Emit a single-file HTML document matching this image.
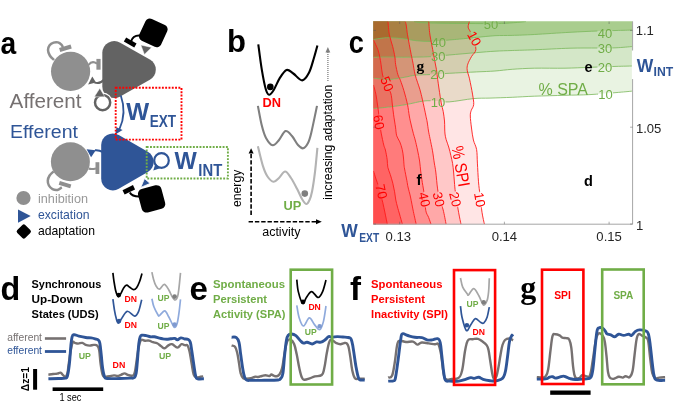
<!DOCTYPE html>
<html><head><meta charset="utf-8"><style>
html,body{margin:0;padding:0;background:#fff;overflow:hidden;}
svg{display:block;will-change:transform;}
text{font-family:"Liberation Sans",sans-serif;}
</style></head><body>
<svg width="685" height="406" viewBox="0 0 685 406">
<defs>
<clipPath id="pc"><rect x="373.5" y="21.5" width="259.10" height="202.70"/></clipPath>
<clipPath id="r10"><path d="M469.50,21.50 C469.27,22.42 467.98,25.35 468.10,27.00 C468.22,28.65 469.38,29.57 470.20,31.40 C471.02,33.23 472.05,34.98 473.00,38.00 C473.95,41.02 476.13,46.43 475.90,49.50 C475.67,52.57 472.95,53.97 471.60,56.40 C470.25,58.83 468.53,61.80 467.80,64.10 C467.07,66.40 466.92,67.75 467.20,70.20 C467.48,72.65 468.62,74.82 469.50,78.80 C470.38,82.78 471.80,89.82 472.50,94.10 C473.20,98.38 473.92,101.77 473.70,104.50 C473.48,107.23 471.77,108.58 471.20,110.50 C470.63,112.42 470.25,113.08 470.30,116.00 C470.35,118.92 470.98,124.00 471.50,128.00 C472.02,132.00 472.55,136.42 473.40,140.00 C474.25,143.58 475.93,145.65 476.60,149.50 C477.27,153.35 477.08,157.72 477.40,163.10 C477.72,168.48 478.07,176.48 478.50,181.80 C478.93,187.12 479.42,189.92 480.00,195.00 C480.58,200.08 481.27,207.43 482.00,212.30 C482.73,217.17 484.00,222.22 484.40,224.20 L484.4,227.2 L370.5,227.2 L370.5,18.5 L469.5,18.5 Z"/></clipPath>
<clipPath id="r20"><path d="M428.80,21.50 C428.83,22.08 428.87,23.18 429.00,25.00 C429.13,26.82 429.30,29.93 429.60,32.40 C429.90,34.87 430.28,36.93 430.80,39.80 C431.32,42.67 432.08,46.32 432.70,49.60 C433.32,52.88 433.88,56.22 434.50,59.50 C435.12,62.78 435.87,65.98 436.40,69.30 C436.93,72.62 437.28,76.28 437.70,79.40 C438.12,82.52 438.48,85.13 438.90,88.00 C439.32,90.87 439.78,93.93 440.20,96.60 C440.62,99.27 440.90,101.53 441.40,104.00 C441.90,106.47 442.68,108.57 443.20,111.40 C443.72,114.23 444.25,118.23 444.50,121.00 C444.75,123.77 444.62,125.83 444.70,128.00 C444.78,130.17 444.75,132.05 445.00,134.00 C445.25,135.95 445.58,137.53 446.20,139.70 C446.82,141.87 447.92,144.33 448.70,147.00 C449.48,149.67 450.25,152.95 450.90,155.70 C451.55,158.45 452.15,160.78 452.60,163.50 C453.05,166.22 453.30,168.92 453.60,172.00 C453.90,175.08 454.08,178.50 454.40,182.00 C454.72,185.50 454.80,187.95 455.50,193.00 C456.20,198.05 457.68,207.10 458.60,212.30 C459.52,217.50 460.60,222.22 461.00,224.20 L461,227.2 L370.5,227.2 L370.5,18.5 L428.8,18.5 Z"/></clipPath>
<clipPath id="r30"><path d="M405.20,21.50 C405.37,22.08 405.82,22.78 406.20,25.00 C406.58,27.22 406.98,31.52 407.50,34.80 C408.02,38.08 408.68,41.42 409.30,44.70 C409.92,47.98 410.58,51.42 411.20,54.50 C411.82,57.58 412.33,59.78 413.00,63.20 C413.67,66.62 414.07,70.67 415.20,75.00 C416.33,79.33 418.62,85.18 419.80,89.20 C420.98,93.22 421.57,96.02 422.30,99.10 C423.03,102.18 423.58,104.83 424.20,107.70 C424.82,110.57 425.50,113.92 426.00,116.30 C426.50,118.68 426.78,119.55 427.20,122.00 C427.62,124.45 428.03,128.25 428.50,131.00 C428.97,133.75 429.33,135.20 430.00,138.50 C430.67,141.80 431.78,146.72 432.50,150.80 C433.22,154.88 433.75,159.47 434.30,163.00 C434.85,166.53 435.25,167.68 435.80,172.00 C436.35,176.32 436.90,184.23 437.60,188.90 C438.30,193.57 439.07,196.48 440.00,200.00 C440.93,203.52 442.18,205.97 443.20,210.00 C444.22,214.03 445.62,221.83 446.10,224.20 L446.1,227.2 L370.5,227.2 L370.5,18.5 L405.2,18.5 Z"/></clipPath>
<clipPath id="r40"><path d="M388.00,21.50 C388.23,23.72 388.62,30.62 389.40,34.80 C390.18,38.98 391.78,42.90 392.70,46.60 C393.62,50.30 394.42,54.05 394.90,57.00 C395.38,59.95 395.10,61.35 395.60,64.30 C396.10,67.25 397.10,72.03 397.90,74.70 C398.70,77.37 399.40,77.63 400.40,80.30 C401.40,82.97 402.72,86.67 403.90,90.70 C405.08,94.73 406.60,100.28 407.50,104.50 C408.40,108.72 408.72,112.75 409.30,116.00 C409.88,119.25 410.33,121.12 411.00,124.00 C411.67,126.88 412.60,130.63 413.30,133.30 C414.00,135.97 414.50,137.22 415.20,140.00 C415.90,142.78 416.77,146.50 417.50,150.00 C418.23,153.50 419.05,157.33 419.60,161.00 C420.15,164.67 420.35,168.43 420.80,172.00 C421.25,175.57 421.68,178.40 422.30,182.40 C422.92,186.40 423.92,191.30 424.50,196.00 C425.08,200.70 425.12,207.03 425.80,210.60 C426.48,214.17 427.73,215.13 428.60,217.40 C429.47,219.67 430.60,223.07 431.00,224.20 L431,227.2 L370.5,227.2 L370.5,18.5 L388,18.5 Z"/></clipPath>
<clipPath id="r50"><path d="M373.50,40.00 C374.23,41.60 376.85,46.77 377.90,49.60 C378.95,52.43 379.27,54.47 379.80,57.00 C380.33,59.53 380.63,61.78 381.10,64.80 C381.57,67.82 381.78,71.73 382.60,75.10 C383.42,78.47 384.65,82.03 386.00,85.00 C387.35,87.97 389.63,89.57 390.70,92.90 C391.77,96.23 391.92,101.35 392.40,105.00 C392.88,108.65 393.08,111.12 393.60,114.80 C394.12,118.48 394.98,123.60 395.50,127.10 C396.02,130.60 395.98,133.33 396.70,135.80 C397.42,138.27 398.88,139.65 399.80,141.90 C400.72,144.15 401.60,146.78 402.20,149.30 C402.80,151.82 403.10,154.42 403.40,157.00 C403.70,159.58 403.80,162.80 404.00,164.80 C404.20,166.80 404.12,166.33 404.60,169.00 C405.08,171.67 406.33,177.80 406.90,180.80 C407.47,183.80 407.40,184.30 408.00,187.00 C408.60,189.70 409.60,192.88 410.50,197.00 C411.40,201.12 412.45,207.17 413.40,211.70 C414.35,216.23 415.73,222.12 416.20,224.20 L416.2,227.2 L370.5,227.2 L370.5,40 Z"/></clipPath>
<clipPath id="r60"><path d="M373.50,85.00 C373.90,86.55 375.25,91.13 375.90,94.30 C376.55,97.47 376.97,101.05 377.40,104.00 C377.83,106.95 378.07,108.50 378.50,112.00 C378.93,115.50 379.55,121.48 380.00,125.00 C380.45,128.52 380.57,129.73 381.20,133.10 C381.83,136.47 383.10,142.38 383.80,145.20 C384.50,148.02 384.83,147.57 385.40,150.00 C385.97,152.43 386.80,156.93 387.20,159.80 C387.60,162.67 387.28,164.73 387.80,167.20 C388.32,169.67 389.47,171.93 390.30,174.60 C391.13,177.27 392.08,180.33 392.80,183.20 C393.52,186.07 394.10,189.00 394.60,191.80 C395.10,194.60 395.32,197.47 395.80,200.00 C396.28,202.53 396.88,204.67 397.50,207.00 C398.12,209.33 398.68,211.13 399.50,214.00 C400.32,216.87 401.92,222.50 402.40,224.20 L402.4,227.2 L370.5,227.2 L370.5,85 Z"/></clipPath>
<clipPath id="r70"><path d="M373.50,171.00 C373.92,172.33 375.17,176.50 376.00,179.00 C376.83,181.50 377.75,183.50 378.50,186.00 C379.25,188.50 379.78,191.22 380.50,194.00 C381.22,196.78 382.05,199.55 382.80,202.70 C383.55,205.85 384.25,209.32 385.00,212.90 C385.75,216.48 386.92,222.32 387.30,224.20 L387.3,227.2 L370.5,227.2 L370.5,171 Z"/></clipPath>
<mask id="lmr" maskUnits="userSpaceOnUse" x="0" y="0" width="685" height="406"><rect width="685" height="406" fill="#fff"/><rect x="-7.6" y="-6.3" width="15.3" height="12.6" fill="#000" transform="translate(474.2,38.6) rotate(62)"/><rect x="-7.6" y="-6.3" width="15.3" height="12.6" fill="#000" transform="translate(387,84) rotate(68)"/><rect x="-7.6" y="-6.3" width="15.3" height="12.6" fill="#000" transform="translate(378.6,122.3) rotate(80)"/><rect x="-7.6" y="-6.3" width="15.3" height="12.6" fill="#000" transform="translate(381.3,191.6) rotate(78)"/><rect x="-7.6" y="-6.3" width="15.3" height="12.6" fill="#000" transform="translate(424.3,199.6) rotate(78)"/><rect x="-7.6" y="-6.3" width="15.3" height="12.6" fill="#000" transform="translate(438.7,199.4) rotate(76)"/><rect x="-7.6" y="-6.3" width="15.3" height="12.6" fill="#000" transform="translate(455.1,199.4) rotate(76)"/><rect x="-7.6" y="-6.3" width="15.3" height="12.6" fill="#000" transform="translate(479.7,199.8) rotate(80)"/></mask>
<mask id="lmg" maskUnits="userSpaceOnUse" x="0" y="0" width="685" height="406"><rect width="685" height="406" fill="#fff"/><rect x="-7.5" y="-6.2" width="14.9" height="12.3" fill="#000" transform="translate(491,24.8) rotate(0)"/><rect x="-7.5" y="-6.2" width="14.9" height="12.3" fill="#000" transform="translate(438.8,42.1) rotate(0)"/><rect x="-7.5" y="-6.2" width="14.9" height="12.3" fill="#000" transform="translate(438.3,56.8) rotate(0)"/><rect x="-7.5" y="-6.2" width="14.9" height="12.3" fill="#000" transform="translate(437.5,74) rotate(0)"/><rect x="-7.5" y="-6.2" width="14.9" height="12.3" fill="#000" transform="translate(438.1,102.2) rotate(0)"/><rect x="-7.5" y="-6.2" width="14.9" height="12.3" fill="#000" transform="translate(604.9,33.3) rotate(0)"/><rect x="-7.5" y="-6.2" width="14.9" height="12.3" fill="#000" transform="translate(604.9,48.4) rotate(0)"/><rect x="-7.5" y="-6.2" width="14.9" height="12.3" fill="#000" transform="translate(604.9,67.4) rotate(0)"/><rect x="-7.5" y="-6.2" width="14.9" height="12.3" fill="#000" transform="translate(605.6,94) rotate(0)"/></mask>
</defs>
<rect width="685" height="406" fill="#fff"/>
<g clip-path="url(#pc)">
<path d="M370.5,18.5 H635.6 V227.2 H370.5 Z" fill="#ffe5e5" clip-path="url(#r10)"/>
<path d="M370.5,18.5 H635.6 V227.2 H370.5 Z" fill="#ffc8c8" clip-path="url(#r20)"/>
<path d="M370.5,18.5 H635.6 V227.2 H370.5 Z" fill="#ffa8a8" clip-path="url(#r30)"/>
<path d="M370.5,18.5 H635.6 V227.2 H370.5 Z" fill="#ff8f8f" clip-path="url(#r40)"/>
<path d="M370.5,18.5 H635.6 V227.2 H370.5 Z" fill="#ff7b7b" clip-path="url(#r50)"/>
<path d="M370.5,18.5 H635.6 V227.2 H370.5 Z" fill="#ff6464" clip-path="url(#r60)"/>
<path d="M370.5,18.5 H635.6 V227.2 H370.5 Z" fill="#ff4d4d" clip-path="url(#r70)"/>
<path d="M373.50,108.50 C376.12,108.25 383.70,107.67 389.20,107.00 C394.70,106.33 400.75,105.50 406.50,104.50 C412.25,103.50 418.78,101.58 423.70,101.00 C428.62,100.42 431.75,100.85 436.00,101.00 C440.25,101.15 442.97,102.30 449.20,101.90 C455.43,101.50 466.60,99.23 473.40,98.60 C480.20,97.97 483.53,98.32 490.00,98.10 C496.47,97.88 504.82,97.62 512.20,97.30 C519.58,96.98 525.50,96.53 534.30,96.20 C543.10,95.87 555.72,95.57 565.00,95.30 C574.28,95.03 581.50,95.05 590.00,94.60 C598.50,94.15 608.90,93.18 616.00,92.60 C623.10,92.02 629.83,91.35 632.60,91.10 L635.6,91.1 L635.6,18.5 L370.5,18.5 L370.5,108.5 Z" fill="#e9f3e2"/>
<path d="M373.50,108.50 C376.12,108.25 383.70,107.67 389.20,107.00 C394.70,106.33 400.75,105.50 406.50,104.50 C412.25,103.50 418.78,101.58 423.70,101.00 C428.62,100.42 431.75,100.85 436.00,101.00 C440.25,101.15 442.97,102.30 449.20,101.90 C455.43,101.50 466.60,99.23 473.40,98.60 C480.20,97.97 483.53,98.32 490.00,98.10 C496.47,97.88 504.82,97.62 512.20,97.30 C519.58,96.98 525.50,96.53 534.30,96.20 C543.10,95.87 555.72,95.57 565.00,95.30 C574.28,95.03 581.50,95.05 590.00,94.60 C598.50,94.15 608.90,93.18 616.00,92.60 C623.10,92.02 629.83,91.35 632.60,91.10 L635.6,91.1 L635.6,18.5 L370.5,18.5 L370.5,108.5 Z" fill="#e9dac9" clip-path="url(#r10)"/>
<path d="M373.50,108.50 C376.12,108.25 383.70,107.67 389.20,107.00 C394.70,106.33 400.75,105.50 406.50,104.50 C412.25,103.50 418.78,101.58 423.70,101.00 C428.62,100.42 431.75,100.85 436.00,101.00 C440.25,101.15 442.97,102.30 449.20,101.90 C455.43,101.50 466.60,99.23 473.40,98.60 C480.20,97.97 483.53,98.32 490.00,98.10 C496.47,97.88 504.82,97.62 512.20,97.30 C519.58,96.98 525.50,96.53 534.30,96.20 C543.10,95.87 555.72,95.57 565.00,95.30 C574.28,95.03 581.50,95.05 590.00,94.60 C598.50,94.15 608.90,93.18 616.00,92.60 C623.10,92.02 629.83,91.35 632.60,91.10 L635.6,91.1 L635.6,18.5 L370.5,18.5 L370.5,108.5 Z" fill="#e9bdad" clip-path="url(#r20)"/>
<path d="M373.50,108.50 C376.12,108.25 383.70,107.67 389.20,107.00 C394.70,106.33 400.75,105.50 406.50,104.50 C412.25,103.50 418.78,101.58 423.70,101.00 C428.62,100.42 431.75,100.85 436.00,101.00 C440.25,101.15 442.97,102.30 449.20,101.90 C455.43,101.50 466.60,99.23 473.40,98.60 C480.20,97.97 483.53,98.32 490.00,98.10 C496.47,97.88 504.82,97.62 512.20,97.30 C519.58,96.98 525.50,96.53 534.30,96.20 C543.10,95.87 555.72,95.57 565.00,95.30 C574.28,95.03 581.50,95.05 590.00,94.60 C598.50,94.15 608.90,93.18 616.00,92.60 C623.10,92.02 629.83,91.35 632.60,91.10 L635.6,91.1 L635.6,18.5 L370.5,18.5 L370.5,108.5 Z" fill="#e99e8e" clip-path="url(#r30)"/>
<path d="M373.50,108.50 C376.12,108.25 383.70,107.67 389.20,107.00 C394.70,106.33 400.75,105.50 406.50,104.50 C412.25,103.50 418.78,101.58 423.70,101.00 C428.62,100.42 431.75,100.85 436.00,101.00 C440.25,101.15 442.97,102.30 449.20,101.90 C455.43,101.50 466.60,99.23 473.40,98.60 C480.20,97.97 483.53,98.32 490.00,98.10 C496.47,97.88 504.82,97.62 512.20,97.30 C519.58,96.98 525.50,96.53 534.30,96.20 C543.10,95.87 555.72,95.57 565.00,95.30 C574.28,95.03 581.50,95.05 590.00,94.60 C598.50,94.15 608.90,93.18 616.00,92.60 C623.10,92.02 629.83,91.35 632.60,91.10 L635.6,91.1 L635.6,18.5 L370.5,18.5 L370.5,108.5 Z" fill="#e98676" clip-path="url(#r40)"/>
<path d="M373.50,108.50 C376.12,108.25 383.70,107.67 389.20,107.00 C394.70,106.33 400.75,105.50 406.50,104.50 C412.25,103.50 418.78,101.58 423.70,101.00 C428.62,100.42 431.75,100.85 436.00,101.00 C440.25,101.15 442.97,102.30 449.20,101.90 C455.43,101.50 466.60,99.23 473.40,98.60 C480.20,97.97 483.53,98.32 490.00,98.10 C496.47,97.88 504.82,97.62 512.20,97.30 C519.58,96.98 525.50,96.53 534.30,96.20 C543.10,95.87 555.72,95.57 565.00,95.30 C574.28,95.03 581.50,95.05 590.00,94.60 C598.50,94.15 608.90,93.18 616.00,92.60 C623.10,92.02 629.83,91.35 632.60,91.10 L635.6,91.1 L635.6,18.5 L370.5,18.5 L370.5,108.5 Z" fill="#e97363" clip-path="url(#r50)"/>
<path d="M373.50,108.50 C376.12,108.25 383.70,107.67 389.20,107.00 C394.70,106.33 400.75,105.50 406.50,104.50 C412.25,103.50 418.78,101.58 423.70,101.00 C428.62,100.42 431.75,100.85 436.00,101.00 C440.25,101.15 442.97,102.30 449.20,101.90 C455.43,101.50 466.60,99.23 473.40,98.60 C480.20,97.97 483.53,98.32 490.00,98.10 C496.47,97.88 504.82,97.62 512.20,97.30 C519.58,96.98 525.50,96.53 534.30,96.20 C543.10,95.87 555.72,95.57 565.00,95.30 C574.28,95.03 581.50,95.05 590.00,94.60 C598.50,94.15 608.90,93.18 616.00,92.60 C623.10,92.02 629.83,91.35 632.60,91.10 L635.6,91.1 L635.6,18.5 L370.5,18.5 L370.5,108.5 Z" fill="#e95c4d" clip-path="url(#r60)"/>
<path d="M373.50,108.50 C376.12,108.25 383.70,107.67 389.20,107.00 C394.70,106.33 400.75,105.50 406.50,104.50 C412.25,103.50 418.78,101.58 423.70,101.00 C428.62,100.42 431.75,100.85 436.00,101.00 C440.25,101.15 442.97,102.30 449.20,101.90 C455.43,101.50 466.60,99.23 473.40,98.60 C480.20,97.97 483.53,98.32 490.00,98.10 C496.47,97.88 504.82,97.62 512.20,97.30 C519.58,96.98 525.50,96.53 534.30,96.20 C543.10,95.87 555.72,95.57 565.00,95.30 C574.28,95.03 581.50,95.05 590.00,94.60 C598.50,94.15 608.90,93.18 616.00,92.60 C623.10,92.02 629.83,91.35 632.60,91.10 L635.6,91.1 L635.6,18.5 L370.5,18.5 L370.5,108.5 Z" fill="#e94637" clip-path="url(#r70)"/>
<path d="M373.50,78.10 C376.12,78.33 383.70,79.70 389.20,79.50 C394.70,79.30 402.18,77.62 406.50,76.90 C410.82,76.18 411.02,75.60 415.10,75.20 C419.18,74.80 425.33,74.82 431.00,74.50 C436.67,74.18 441.48,73.73 449.10,73.30 C456.72,72.87 469.05,72.28 476.70,71.90 C484.35,71.52 489.08,71.43 495.00,71.00 C500.92,70.57 505.65,69.77 512.20,69.30 C518.75,68.83 525.50,68.38 534.30,68.20 C543.10,68.02 555.72,68.35 565.00,68.20 C574.28,68.05 581.50,67.60 590.00,67.30 C598.50,67.00 608.90,66.62 616.00,66.40 C623.10,66.18 629.83,66.07 632.60,66.00 L635.6,66 L635.6,18.5 L370.5,18.5 L370.5,78.1 Z" fill="#d4e7c8"/>
<path d="M373.50,78.10 C376.12,78.33 383.70,79.70 389.20,79.50 C394.70,79.30 402.18,77.62 406.50,76.90 C410.82,76.18 411.02,75.60 415.10,75.20 C419.18,74.80 425.33,74.82 431.00,74.50 C436.67,74.18 441.48,73.73 449.10,73.30 C456.72,72.87 469.05,72.28 476.70,71.90 C484.35,71.52 489.08,71.43 495.00,71.00 C500.92,70.57 505.65,69.77 512.20,69.30 C518.75,68.83 525.50,68.38 534.30,68.20 C543.10,68.02 555.72,68.35 565.00,68.20 C574.28,68.05 581.50,67.60 590.00,67.30 C598.50,67.00 608.90,66.62 616.00,66.40 C623.10,66.18 629.83,66.07 632.60,66.00 L635.6,66 L635.6,18.5 L370.5,18.5 L370.5,78.1 Z" fill="#d4ceb0" clip-path="url(#r10)"/>
<path d="M373.50,78.10 C376.12,78.33 383.70,79.70 389.20,79.50 C394.70,79.30 402.18,77.62 406.50,76.90 C410.82,76.18 411.02,75.60 415.10,75.20 C419.18,74.80 425.33,74.82 431.00,74.50 C436.67,74.18 441.48,73.73 449.10,73.30 C456.72,72.87 469.05,72.28 476.70,71.90 C484.35,71.52 489.08,71.43 495.00,71.00 C500.92,70.57 505.65,69.77 512.20,69.30 C518.75,68.83 525.50,68.38 534.30,68.20 C543.10,68.02 555.72,68.35 565.00,68.20 C574.28,68.05 581.50,67.60 590.00,67.30 C598.50,67.00 608.90,66.62 616.00,66.40 C623.10,66.18 629.83,66.07 632.60,66.00 L635.6,66 L635.6,18.5 L370.5,18.5 L370.5,78.1 Z" fill="#d4b395" clip-path="url(#r20)"/>
<path d="M373.50,78.10 C376.12,78.33 383.70,79.70 389.20,79.50 C394.70,79.30 402.18,77.62 406.50,76.90 C410.82,76.18 411.02,75.60 415.10,75.20 C419.18,74.80 425.33,74.82 431.00,74.50 C436.67,74.18 441.48,73.73 449.10,73.30 C456.72,72.87 469.05,72.28 476.70,71.90 C484.35,71.52 489.08,71.43 495.00,71.00 C500.92,70.57 505.65,69.77 512.20,69.30 C518.75,68.83 525.50,68.38 534.30,68.20 C543.10,68.02 555.72,68.35 565.00,68.20 C574.28,68.05 581.50,67.60 590.00,67.30 C598.50,67.00 608.90,66.62 616.00,66.40 C623.10,66.18 629.83,66.07 632.60,66.00 L635.6,66 L635.6,18.5 L370.5,18.5 L370.5,78.1 Z" fill="#d49577" clip-path="url(#r30)"/>
<path d="M373.50,78.10 C376.12,78.33 383.70,79.70 389.20,79.50 C394.70,79.30 402.18,77.62 406.50,76.90 C410.82,76.18 411.02,75.60 415.10,75.20 C419.18,74.80 425.33,74.82 431.00,74.50 C436.67,74.18 441.48,73.73 449.10,73.30 C456.72,72.87 469.05,72.28 476.70,71.90 C484.35,71.52 489.08,71.43 495.00,71.00 C500.92,70.57 505.65,69.77 512.20,69.30 C518.75,68.83 525.50,68.38 534.30,68.20 C543.10,68.02 555.72,68.35 565.00,68.20 C574.28,68.05 581.50,67.60 590.00,67.30 C598.50,67.00 608.90,66.62 616.00,66.40 C623.10,66.18 629.83,66.07 632.60,66.00 L635.6,66 L635.6,18.5 L370.5,18.5 L370.5,78.1 Z" fill="#d47d5f" clip-path="url(#r40)"/>
<path d="M373.50,78.10 C376.12,78.33 383.70,79.70 389.20,79.50 C394.70,79.30 402.18,77.62 406.50,76.90 C410.82,76.18 411.02,75.60 415.10,75.20 C419.18,74.80 425.33,74.82 431.00,74.50 C436.67,74.18 441.48,73.73 449.10,73.30 C456.72,72.87 469.05,72.28 476.70,71.90 C484.35,71.52 489.08,71.43 495.00,71.00 C500.92,70.57 505.65,69.77 512.20,69.30 C518.75,68.83 525.50,68.38 534.30,68.20 C543.10,68.02 555.72,68.35 565.00,68.20 C574.28,68.05 581.50,67.60 590.00,67.30 C598.50,67.00 608.90,66.62 616.00,66.40 C623.10,66.18 629.83,66.07 632.60,66.00 L635.6,66 L635.6,18.5 L370.5,18.5 L370.5,78.1 Z" fill="#d46a4d" clip-path="url(#r50)"/>
<path d="M373.50,78.10 C376.12,78.33 383.70,79.70 389.20,79.50 C394.70,79.30 402.18,77.62 406.50,76.90 C410.82,76.18 411.02,75.60 415.10,75.20 C419.18,74.80 425.33,74.82 431.00,74.50 C436.67,74.18 441.48,73.73 449.10,73.30 C456.72,72.87 469.05,72.28 476.70,71.90 C484.35,71.52 489.08,71.43 495.00,71.00 C500.92,70.57 505.65,69.77 512.20,69.30 C518.75,68.83 525.50,68.38 534.30,68.20 C543.10,68.02 555.72,68.35 565.00,68.20 C574.28,68.05 581.50,67.60 590.00,67.30 C598.50,67.00 608.90,66.62 616.00,66.40 C623.10,66.18 629.83,66.07 632.60,66.00 L635.6,66 L635.6,18.5 L370.5,18.5 L370.5,78.1 Z" fill="#d45537" clip-path="url(#r60)"/>
<path d="M373.50,78.10 C376.12,78.33 383.70,79.70 389.20,79.50 C394.70,79.30 402.18,77.62 406.50,76.90 C410.82,76.18 411.02,75.60 415.10,75.20 C419.18,74.80 425.33,74.82 431.00,74.50 C436.67,74.18 441.48,73.73 449.10,73.30 C456.72,72.87 469.05,72.28 476.70,71.90 C484.35,71.52 489.08,71.43 495.00,71.00 C500.92,70.57 505.65,69.77 512.20,69.30 C518.75,68.83 525.50,68.38 534.30,68.20 C543.10,68.02 555.72,68.35 565.00,68.20 C574.28,68.05 581.50,67.60 590.00,67.30 C598.50,67.00 608.90,66.62 616.00,66.40 C623.10,66.18 629.83,66.07 632.60,66.00 L635.6,66 L635.6,18.5 L370.5,18.5 L370.5,78.1 Z" fill="#d43f22" clip-path="url(#r70)"/>
<path d="M373.50,57.20 C375.72,57.17 382.12,57.00 386.80,57.00 C391.48,57.00 396.68,57.18 401.60,57.20 C406.52,57.22 411.40,57.20 416.30,57.10 C421.20,57.00 425.53,56.95 431.00,56.60 C436.47,56.25 441.48,55.67 449.10,55.00 C456.72,54.33 469.05,53.23 476.70,52.60 C484.35,51.97 489.08,51.55 495.00,51.20 C500.92,50.85 505.65,50.73 512.20,50.50 C518.75,50.27 524.67,50.18 534.30,49.80 C543.93,49.42 559.42,48.50 570.00,48.20 C580.58,47.90 590.13,48.07 597.80,48.00 C605.47,47.93 610.20,48.05 616.00,47.80 C621.80,47.55 629.83,46.72 632.60,46.50 L635.6,46.5 L635.6,18.5 L370.5,18.5 L370.5,57.2 Z" fill="#c1dcb0"/>
<path d="M373.50,57.20 C375.72,57.17 382.12,57.00 386.80,57.00 C391.48,57.00 396.68,57.18 401.60,57.20 C406.52,57.22 411.40,57.20 416.30,57.10 C421.20,57.00 425.53,56.95 431.00,56.60 C436.47,56.25 441.48,55.67 449.10,55.00 C456.72,54.33 469.05,53.23 476.70,52.60 C484.35,51.97 489.08,51.55 495.00,51.20 C500.92,50.85 505.65,50.73 512.20,50.50 C518.75,50.27 524.67,50.18 534.30,49.80 C543.93,49.42 559.42,48.50 570.00,48.20 C580.58,47.90 590.13,48.07 597.80,48.00 C605.47,47.93 610.20,48.05 616.00,47.80 C621.80,47.55 629.83,46.72 632.60,46.50 L635.6,46.5 L635.6,18.5 L370.5,18.5 L370.5,57.2 Z" fill="#c1c498" clip-path="url(#r10)"/>
<path d="M373.50,57.20 C375.72,57.17 382.12,57.00 386.80,57.00 C391.48,57.00 396.68,57.18 401.60,57.20 C406.52,57.22 411.40,57.20 416.30,57.10 C421.20,57.00 425.53,56.95 431.00,56.60 C436.47,56.25 441.48,55.67 449.10,55.00 C456.72,54.33 469.05,53.23 476.70,52.60 C484.35,51.97 489.08,51.55 495.00,51.20 C500.92,50.85 505.65,50.73 512.20,50.50 C518.75,50.27 524.67,50.18 534.30,49.80 C543.93,49.42 559.42,48.50 570.00,48.20 C580.58,47.90 590.13,48.07 597.80,48.00 C605.47,47.93 610.20,48.05 616.00,47.80 C621.80,47.55 629.83,46.72 632.60,46.50 L635.6,46.5 L635.6,18.5 L370.5,18.5 L370.5,57.2 Z" fill="#c1a97e" clip-path="url(#r20)"/>
<path d="M373.50,57.20 C375.72,57.17 382.12,57.00 386.80,57.00 C391.48,57.00 396.68,57.18 401.60,57.20 C406.52,57.22 411.40,57.20 416.30,57.10 C421.20,57.00 425.53,56.95 431.00,56.60 C436.47,56.25 441.48,55.67 449.10,55.00 C456.72,54.33 469.05,53.23 476.70,52.60 C484.35,51.97 489.08,51.55 495.00,51.20 C500.92,50.85 505.65,50.73 512.20,50.50 C518.75,50.27 524.67,50.18 534.30,49.80 C543.93,49.42 559.42,48.50 570.00,48.20 C580.58,47.90 590.13,48.07 597.80,48.00 C605.47,47.93 610.20,48.05 616.00,47.80 C621.80,47.55 629.83,46.72 632.60,46.50 L635.6,46.5 L635.6,18.5 L370.5,18.5 L370.5,57.2 Z" fill="#c18c61" clip-path="url(#r30)"/>
<path d="M373.50,57.20 C375.72,57.17 382.12,57.00 386.80,57.00 C391.48,57.00 396.68,57.18 401.60,57.20 C406.52,57.22 411.40,57.20 416.30,57.10 C421.20,57.00 425.53,56.95 431.00,56.60 C436.47,56.25 441.48,55.67 449.10,55.00 C456.72,54.33 469.05,53.23 476.70,52.60 C484.35,51.97 489.08,51.55 495.00,51.20 C500.92,50.85 505.65,50.73 512.20,50.50 C518.75,50.27 524.67,50.18 534.30,49.80 C543.93,49.42 559.42,48.50 570.00,48.20 C580.58,47.90 590.13,48.07 597.80,48.00 C605.47,47.93 610.20,48.05 616.00,47.80 C621.80,47.55 629.83,46.72 632.60,46.50 L635.6,46.5 L635.6,18.5 L370.5,18.5 L370.5,57.2 Z" fill="#c1754a" clip-path="url(#r40)"/>
<path d="M373.50,57.20 C375.72,57.17 382.12,57.00 386.80,57.00 C391.48,57.00 396.68,57.18 401.60,57.20 C406.52,57.22 411.40,57.20 416.30,57.10 C421.20,57.00 425.53,56.95 431.00,56.60 C436.47,56.25 441.48,55.67 449.10,55.00 C456.72,54.33 469.05,53.23 476.70,52.60 C484.35,51.97 489.08,51.55 495.00,51.20 C500.92,50.85 505.65,50.73 512.20,50.50 C518.75,50.27 524.67,50.18 534.30,49.80 C543.93,49.42 559.42,48.50 570.00,48.20 C580.58,47.90 590.13,48.07 597.80,48.00 C605.47,47.93 610.20,48.05 616.00,47.80 C621.80,47.55 629.83,46.72 632.60,46.50 L635.6,46.5 L635.6,18.5 L370.5,18.5 L370.5,57.2 Z" fill="#c16338" clip-path="url(#r50)"/>
<path d="M373.50,57.20 C375.72,57.17 382.12,57.00 386.80,57.00 C391.48,57.00 396.68,57.18 401.60,57.20 C406.52,57.22 411.40,57.20 416.30,57.10 C421.20,57.00 425.53,56.95 431.00,56.60 C436.47,56.25 441.48,55.67 449.10,55.00 C456.72,54.33 469.05,53.23 476.70,52.60 C484.35,51.97 489.08,51.55 495.00,51.20 C500.92,50.85 505.65,50.73 512.20,50.50 C518.75,50.27 524.67,50.18 534.30,49.80 C543.93,49.42 559.42,48.50 570.00,48.20 C580.58,47.90 590.13,48.07 597.80,48.00 C605.47,47.93 610.20,48.05 616.00,47.80 C621.80,47.55 629.83,46.72 632.60,46.50 L635.6,46.5 L635.6,18.5 L370.5,18.5 L370.5,57.2 Z" fill="#c14e23" clip-path="url(#r60)"/>
<path d="M373.50,57.20 C375.72,57.17 382.12,57.00 386.80,57.00 C391.48,57.00 396.68,57.18 401.60,57.20 C406.52,57.22 411.40,57.20 416.30,57.10 C421.20,57.00 425.53,56.95 431.00,56.60 C436.47,56.25 441.48,55.67 449.10,55.00 C456.72,54.33 469.05,53.23 476.70,52.60 C484.35,51.97 489.08,51.55 495.00,51.20 C500.92,50.85 505.65,50.73 512.20,50.50 C518.75,50.27 524.67,50.18 534.30,49.80 C543.93,49.42 559.42,48.50 570.00,48.20 C580.58,47.90 590.13,48.07 597.80,48.00 C605.47,47.93 610.20,48.05 616.00,47.80 C621.80,47.55 629.83,46.72 632.60,46.50 L635.6,46.5 L635.6,18.5 L370.5,18.5 L370.5,57.2 Z" fill="#c1380f" clip-path="url(#r70)"/>
<path d="M373.50,39.40 C375.72,39.12 382.12,37.85 386.80,37.70 C391.48,37.55 396.68,38.00 401.60,38.50 C406.52,39.00 411.23,40.22 416.30,40.70 C421.37,41.18 426.53,41.52 432.00,41.40 C437.47,41.28 444.52,40.38 449.10,40.00 C453.68,39.62 454.90,39.53 459.50,39.10 C464.10,38.67 470.78,37.97 476.70,37.40 C482.62,36.83 489.08,36.03 495.00,35.70 C500.92,35.37 505.65,35.60 512.20,35.40 C518.75,35.20 524.67,35.02 534.30,34.50 C543.93,33.98 559.42,32.88 570.00,32.30 C580.58,31.72 590.13,31.30 597.80,31.00 C605.47,30.70 610.20,30.65 616.00,30.50 C621.80,30.35 629.83,30.17 632.60,30.10 L635.6,30.1 L635.6,18.5 L370.5,18.5 L370.5,39.4 Z" fill="#a9cd8e"/>
<path d="M373.50,39.40 C375.72,39.12 382.12,37.85 386.80,37.70 C391.48,37.55 396.68,38.00 401.60,38.50 C406.52,39.00 411.23,40.22 416.30,40.70 C421.37,41.18 426.53,41.52 432.00,41.40 C437.47,41.28 444.52,40.38 449.10,40.00 C453.68,39.62 454.90,39.53 459.50,39.10 C464.10,38.67 470.78,37.97 476.70,37.40 C482.62,36.83 489.08,36.03 495.00,35.70 C500.92,35.37 505.65,35.60 512.20,35.40 C518.75,35.20 524.67,35.02 534.30,34.50 C543.93,33.98 559.42,32.88 570.00,32.30 C580.58,31.72 590.13,31.30 597.80,31.00 C605.47,30.70 610.20,30.65 616.00,30.50 C621.80,30.35 629.83,30.17 632.60,30.10 L635.6,30.1 L635.6,18.5 L370.5,18.5 L370.5,39.4 Z" fill="#a9b678" clip-path="url(#r10)"/>
<path d="M373.50,39.40 C375.72,39.12 382.12,37.85 386.80,37.70 C391.48,37.55 396.68,38.00 401.60,38.50 C406.52,39.00 411.23,40.22 416.30,40.70 C421.37,41.18 426.53,41.52 432.00,41.40 C437.47,41.28 444.52,40.38 449.10,40.00 C453.68,39.62 454.90,39.53 459.50,39.10 C464.10,38.67 470.78,37.97 476.70,37.40 C482.62,36.83 489.08,36.03 495.00,35.70 C500.92,35.37 505.65,35.60 512.20,35.40 C518.75,35.20 524.67,35.02 534.30,34.50 C543.93,33.98 559.42,32.88 570.00,32.30 C580.58,31.72 590.13,31.30 597.80,31.00 C605.47,30.70 610.20,30.65 616.00,30.50 C621.80,30.35 629.83,30.17 632.60,30.10 L635.6,30.1 L635.6,18.5 L370.5,18.5 L370.5,39.4 Z" fill="#a99c5f" clip-path="url(#r20)"/>
<path d="M373.50,39.40 C375.72,39.12 382.12,37.85 386.80,37.70 C391.48,37.55 396.68,38.00 401.60,38.50 C406.52,39.00 411.23,40.22 416.30,40.70 C421.37,41.18 426.53,41.52 432.00,41.40 C437.47,41.28 444.52,40.38 449.10,40.00 C453.68,39.62 454.90,39.53 459.50,39.10 C464.10,38.67 470.78,37.97 476.70,37.40 C482.62,36.83 489.08,36.03 495.00,35.70 C500.92,35.37 505.65,35.60 512.20,35.40 C518.75,35.20 524.67,35.02 534.30,34.50 C543.93,33.98 559.42,32.88 570.00,32.30 C580.58,31.72 590.13,31.30 597.80,31.00 C605.47,30.70 610.20,30.65 616.00,30.50 C621.80,30.35 629.83,30.17 632.60,30.10 L635.6,30.1 L635.6,18.5 L370.5,18.5 L370.5,39.4 Z" fill="#a98043" clip-path="url(#r30)"/>
<path d="M373.50,39.40 C375.72,39.12 382.12,37.85 386.80,37.70 C391.48,37.55 396.68,38.00 401.60,38.50 C406.52,39.00 411.23,40.22 416.30,40.70 C421.37,41.18 426.53,41.52 432.00,41.40 C437.47,41.28 444.52,40.38 449.10,40.00 C453.68,39.62 454.90,39.53 459.50,39.10 C464.10,38.67 470.78,37.97 476.70,37.40 C482.62,36.83 489.08,36.03 495.00,35.70 C500.92,35.37 505.65,35.60 512.20,35.40 C518.75,35.20 524.67,35.02 534.30,34.50 C543.93,33.98 559.42,32.88 570.00,32.30 C580.58,31.72 590.13,31.30 597.80,31.00 C605.47,30.70 610.20,30.65 616.00,30.50 C621.80,30.35 629.83,30.17 632.60,30.10 L635.6,30.1 L635.6,18.5 L370.5,18.5 L370.5,39.4 Z" fill="#a96a2e" clip-path="url(#r40)"/>
<path d="M373.50,39.40 C375.72,39.12 382.12,37.85 386.80,37.70 C391.48,37.55 396.68,38.00 401.60,38.50 C406.52,39.00 411.23,40.22 416.30,40.70 C421.37,41.18 426.53,41.52 432.00,41.40 C437.47,41.28 444.52,40.38 449.10,40.00 C453.68,39.62 454.90,39.53 459.50,39.10 C464.10,38.67 470.78,37.97 476.70,37.40 C482.62,36.83 489.08,36.03 495.00,35.70 C500.92,35.37 505.65,35.60 512.20,35.40 C518.75,35.20 524.67,35.02 534.30,34.50 C543.93,33.98 559.42,32.88 570.00,32.30 C580.58,31.72 590.13,31.30 597.80,31.00 C605.47,30.70 610.20,30.65 616.00,30.50 C621.80,30.35 629.83,30.17 632.60,30.10 L635.6,30.1 L635.6,18.5 L370.5,18.5 L370.5,39.4 Z" fill="#a9591d" clip-path="url(#r50)"/>
<path d="M373.50,39.40 C375.72,39.12 382.12,37.85 386.80,37.70 C391.48,37.55 396.68,38.00 401.60,38.50 C406.52,39.00 411.23,40.22 416.30,40.70 C421.37,41.18 426.53,41.52 432.00,41.40 C437.47,41.28 444.52,40.38 449.10,40.00 C453.68,39.62 454.90,39.53 459.50,39.10 C464.10,38.67 470.78,37.97 476.70,37.40 C482.62,36.83 489.08,36.03 495.00,35.70 C500.92,35.37 505.65,35.60 512.20,35.40 C518.75,35.20 524.67,35.02 534.30,34.50 C543.93,33.98 559.42,32.88 570.00,32.30 C580.58,31.72 590.13,31.30 597.80,31.00 C605.47,30.70 610.20,30.65 616.00,30.50 C621.80,30.35 629.83,30.17 632.60,30.10 L635.6,30.1 L635.6,18.5 L370.5,18.5 L370.5,39.4 Z" fill="#a94409" clip-path="url(#r60)"/>
<path d="M373.50,39.40 C375.72,39.12 382.12,37.85 386.80,37.70 C391.48,37.55 396.68,38.00 401.60,38.50 C406.52,39.00 411.23,40.22 416.30,40.70 C421.37,41.18 426.53,41.52 432.00,41.40 C437.47,41.28 444.52,40.38 449.10,40.00 C453.68,39.62 454.90,39.53 459.50,39.10 C464.10,38.67 470.78,37.97 476.70,37.40 C482.62,36.83 489.08,36.03 495.00,35.70 C500.92,35.37 505.65,35.60 512.20,35.40 C518.75,35.20 524.67,35.02 534.30,34.50 C543.93,33.98 559.42,32.88 570.00,32.30 C580.58,31.72 590.13,31.30 597.80,31.00 C605.47,30.70 610.20,30.65 616.00,30.50 C621.80,30.35 629.83,30.17 632.60,30.10 L635.6,30.1 L635.6,18.5 L370.5,18.5 L370.5,39.4 Z" fill="#a93000" clip-path="url(#r70)"/>
<path d="M414.00,21.50 C415.00,21.68 415.67,22.32 420.00,22.60 C424.33,22.88 431.67,23.05 440.00,23.20 C448.33,23.35 461.67,23.43 470.00,23.50 C478.33,23.57 484.17,23.63 490.00,23.60 C495.83,23.57 499.83,23.55 505.00,23.30 C510.17,23.05 517.50,22.40 521.00,22.10 C524.50,21.80 525.17,21.60 526.00,21.50 L526,18.5 L414,18.5 Z" fill="#98c37a"/>
<path d="M414.00,21.50 C415.00,21.68 415.67,22.32 420.00,22.60 C424.33,22.88 431.67,23.05 440.00,23.20 C448.33,23.35 461.67,23.43 470.00,23.50 C478.33,23.57 484.17,23.63 490.00,23.60 C495.83,23.57 499.83,23.55 505.00,23.30 C510.17,23.05 517.50,22.40 521.00,22.10 C524.50,21.80 525.17,21.60 526.00,21.50 L526,18.5 L414,18.5 Z" fill="#98ad64" clip-path="url(#r10)"/>
<path d="M414.00,21.50 C415.00,21.68 415.67,22.32 420.00,22.60 C424.33,22.88 431.67,23.05 440.00,23.20 C448.33,23.35 461.67,23.43 470.00,23.50 C478.33,23.57 484.17,23.63 490.00,23.60 C495.83,23.57 499.83,23.55 505.00,23.30 C510.17,23.05 517.50,22.40 521.00,22.10 C524.50,21.80 525.17,21.60 526.00,21.50 L526,18.5 L414,18.5 Z" fill="#98944c" clip-path="url(#r20)"/>
<path d="M414.00,21.50 C415.00,21.68 415.67,22.32 420.00,22.60 C424.33,22.88 431.67,23.05 440.00,23.20 C448.33,23.35 461.67,23.43 470.00,23.50 C478.33,23.57 484.17,23.63 490.00,23.60 C495.83,23.57 499.83,23.55 505.00,23.30 C510.17,23.05 517.50,22.40 521.00,22.10 C524.50,21.80 525.17,21.60 526.00,21.50 L526,18.5 L414,18.5 Z" fill="#987831" clip-path="url(#r30)"/>
<path d="M414.00,21.50 C415.00,21.68 415.67,22.32 420.00,22.60 C424.33,22.88 431.67,23.05 440.00,23.20 C448.33,23.35 461.67,23.43 470.00,23.50 C478.33,23.57 484.17,23.63 490.00,23.60 C495.83,23.57 499.83,23.55 505.00,23.30 C510.17,23.05 517.50,22.40 521.00,22.10 C524.50,21.80 525.17,21.60 526.00,21.50 L526,18.5 L414,18.5 Z" fill="#98631c" clip-path="url(#r40)"/>
<path d="M414.00,21.50 C415.00,21.68 415.67,22.32 420.00,22.60 C424.33,22.88 431.67,23.05 440.00,23.20 C448.33,23.35 461.67,23.43 470.00,23.50 C478.33,23.57 484.17,23.63 490.00,23.60 C495.83,23.57 499.83,23.55 505.00,23.30 C510.17,23.05 517.50,22.40 521.00,22.10 C524.50,21.80 525.17,21.60 526.00,21.50 L526,18.5 L414,18.5 Z" fill="#98520b" clip-path="url(#r50)"/>
<path d="M414.00,21.50 C415.00,21.68 415.67,22.32 420.00,22.60 C424.33,22.88 431.67,23.05 440.00,23.20 C448.33,23.35 461.67,23.43 470.00,23.50 C478.33,23.57 484.17,23.63 490.00,23.60 C495.83,23.57 499.83,23.55 505.00,23.30 C510.17,23.05 517.50,22.40 521.00,22.10 C524.50,21.80 525.17,21.60 526.00,21.50 L526,18.5 L414,18.5 Z" fill="#983e00" clip-path="url(#r60)"/>
<path d="M414.00,21.50 C415.00,21.68 415.67,22.32 420.00,22.60 C424.33,22.88 431.67,23.05 440.00,23.20 C448.33,23.35 461.67,23.43 470.00,23.50 C478.33,23.57 484.17,23.63 490.00,23.60 C495.83,23.57 499.83,23.55 505.00,23.30 C510.17,23.05 517.50,22.40 521.00,22.10 C524.50,21.80 525.17,21.60 526.00,21.50 L526,18.5 L414,18.5 Z" fill="#982a00" clip-path="url(#r70)"/>
<g mask="url(#lmg)">
<path d="M373.50,108.50 C376.12,108.25 383.70,107.67 389.20,107.00 C394.70,106.33 400.75,105.50 406.50,104.50 C412.25,103.50 418.78,101.58 423.70,101.00 C428.62,100.42 431.75,100.85 436.00,101.00 C440.25,101.15 442.97,102.30 449.20,101.90 C455.43,101.50 466.60,99.23 473.40,98.60 C480.20,97.97 483.53,98.32 490.00,98.10 C496.47,97.88 504.82,97.62 512.20,97.30 C519.58,96.98 525.50,96.53 534.30,96.20 C543.10,95.87 555.72,95.57 565.00,95.30 C574.28,95.03 581.50,95.05 590.00,94.60 C598.50,94.15 608.90,93.18 616.00,92.60 C623.10,92.02 629.83,91.35 632.60,91.10" fill="none" stroke="#7ab85a" stroke-width="0.8"/>
<path d="M373.50,78.10 C376.12,78.33 383.70,79.70 389.20,79.50 C394.70,79.30 402.18,77.62 406.50,76.90 C410.82,76.18 411.02,75.60 415.10,75.20 C419.18,74.80 425.33,74.82 431.00,74.50 C436.67,74.18 441.48,73.73 449.10,73.30 C456.72,72.87 469.05,72.28 476.70,71.90 C484.35,71.52 489.08,71.43 495.00,71.00 C500.92,70.57 505.65,69.77 512.20,69.30 C518.75,68.83 525.50,68.38 534.30,68.20 C543.10,68.02 555.72,68.35 565.00,68.20 C574.28,68.05 581.50,67.60 590.00,67.30 C598.50,67.00 608.90,66.62 616.00,66.40 C623.10,66.18 629.83,66.07 632.60,66.00" fill="none" stroke="#7ab85a" stroke-width="0.8"/>
<path d="M373.50,57.20 C375.72,57.17 382.12,57.00 386.80,57.00 C391.48,57.00 396.68,57.18 401.60,57.20 C406.52,57.22 411.40,57.20 416.30,57.10 C421.20,57.00 425.53,56.95 431.00,56.60 C436.47,56.25 441.48,55.67 449.10,55.00 C456.72,54.33 469.05,53.23 476.70,52.60 C484.35,51.97 489.08,51.55 495.00,51.20 C500.92,50.85 505.65,50.73 512.20,50.50 C518.75,50.27 524.67,50.18 534.30,49.80 C543.93,49.42 559.42,48.50 570.00,48.20 C580.58,47.90 590.13,48.07 597.80,48.00 C605.47,47.93 610.20,48.05 616.00,47.80 C621.80,47.55 629.83,46.72 632.60,46.50" fill="none" stroke="#7ab85a" stroke-width="0.8"/>
<path d="M373.50,39.40 C375.72,39.12 382.12,37.85 386.80,37.70 C391.48,37.55 396.68,38.00 401.60,38.50 C406.52,39.00 411.23,40.22 416.30,40.70 C421.37,41.18 426.53,41.52 432.00,41.40 C437.47,41.28 444.52,40.38 449.10,40.00 C453.68,39.62 454.90,39.53 459.50,39.10 C464.10,38.67 470.78,37.97 476.70,37.40 C482.62,36.83 489.08,36.03 495.00,35.70 C500.92,35.37 505.65,35.60 512.20,35.40 C518.75,35.20 524.67,35.02 534.30,34.50 C543.93,33.98 559.42,32.88 570.00,32.30 C580.58,31.72 590.13,31.30 597.80,31.00 C605.47,30.70 610.20,30.65 616.00,30.50 C621.80,30.35 629.83,30.17 632.60,30.10" fill="none" stroke="#7ab85a" stroke-width="0.8"/>
<path d="M414.00,21.50 C415.00,21.68 415.67,22.32 420.00,22.60 C424.33,22.88 431.67,23.05 440.00,23.20 C448.33,23.35 461.67,23.43 470.00,23.50 C478.33,23.57 484.17,23.63 490.00,23.60 C495.83,23.57 499.83,23.55 505.00,23.30 C510.17,23.05 517.50,22.40 521.00,22.10 C524.50,21.80 525.17,21.60 526.00,21.50" fill="none" stroke="#7ab85a" stroke-width="0.8"/>
</g>
<g mask="url(#lmr)">
<path d="M469.50,21.50 C469.27,22.42 467.98,25.35 468.10,27.00 C468.22,28.65 469.38,29.57 470.20,31.40 C471.02,33.23 472.05,34.98 473.00,38.00 C473.95,41.02 476.13,46.43 475.90,49.50 C475.67,52.57 472.95,53.97 471.60,56.40 C470.25,58.83 468.53,61.80 467.80,64.10 C467.07,66.40 466.92,67.75 467.20,70.20 C467.48,72.65 468.62,74.82 469.50,78.80 C470.38,82.78 471.80,89.82 472.50,94.10 C473.20,98.38 473.92,101.77 473.70,104.50 C473.48,107.23 471.77,108.58 471.20,110.50 C470.63,112.42 470.25,113.08 470.30,116.00 C470.35,118.92 470.98,124.00 471.50,128.00 C472.02,132.00 472.55,136.42 473.40,140.00 C474.25,143.58 475.93,145.65 476.60,149.50 C477.27,153.35 477.08,157.72 477.40,163.10 C477.72,168.48 478.07,176.48 478.50,181.80 C478.93,187.12 479.42,189.92 480.00,195.00 C480.58,200.08 481.27,207.43 482.00,212.30 C482.73,217.17 484.00,222.22 484.40,224.20" fill="none" stroke="#ff1a1a" stroke-width="0.9"/>
<path d="M428.80,21.50 C428.83,22.08 428.87,23.18 429.00,25.00 C429.13,26.82 429.30,29.93 429.60,32.40 C429.90,34.87 430.28,36.93 430.80,39.80 C431.32,42.67 432.08,46.32 432.70,49.60 C433.32,52.88 433.88,56.22 434.50,59.50 C435.12,62.78 435.87,65.98 436.40,69.30 C436.93,72.62 437.28,76.28 437.70,79.40 C438.12,82.52 438.48,85.13 438.90,88.00 C439.32,90.87 439.78,93.93 440.20,96.60 C440.62,99.27 440.90,101.53 441.40,104.00 C441.90,106.47 442.68,108.57 443.20,111.40 C443.72,114.23 444.25,118.23 444.50,121.00 C444.75,123.77 444.62,125.83 444.70,128.00 C444.78,130.17 444.75,132.05 445.00,134.00 C445.25,135.95 445.58,137.53 446.20,139.70 C446.82,141.87 447.92,144.33 448.70,147.00 C449.48,149.67 450.25,152.95 450.90,155.70 C451.55,158.45 452.15,160.78 452.60,163.50 C453.05,166.22 453.30,168.92 453.60,172.00 C453.90,175.08 454.08,178.50 454.40,182.00 C454.72,185.50 454.80,187.95 455.50,193.00 C456.20,198.05 457.68,207.10 458.60,212.30 C459.52,217.50 460.60,222.22 461.00,224.20" fill="none" stroke="#ff1a1a" stroke-width="0.9"/>
<path d="M405.20,21.50 C405.37,22.08 405.82,22.78 406.20,25.00 C406.58,27.22 406.98,31.52 407.50,34.80 C408.02,38.08 408.68,41.42 409.30,44.70 C409.92,47.98 410.58,51.42 411.20,54.50 C411.82,57.58 412.33,59.78 413.00,63.20 C413.67,66.62 414.07,70.67 415.20,75.00 C416.33,79.33 418.62,85.18 419.80,89.20 C420.98,93.22 421.57,96.02 422.30,99.10 C423.03,102.18 423.58,104.83 424.20,107.70 C424.82,110.57 425.50,113.92 426.00,116.30 C426.50,118.68 426.78,119.55 427.20,122.00 C427.62,124.45 428.03,128.25 428.50,131.00 C428.97,133.75 429.33,135.20 430.00,138.50 C430.67,141.80 431.78,146.72 432.50,150.80 C433.22,154.88 433.75,159.47 434.30,163.00 C434.85,166.53 435.25,167.68 435.80,172.00 C436.35,176.32 436.90,184.23 437.60,188.90 C438.30,193.57 439.07,196.48 440.00,200.00 C440.93,203.52 442.18,205.97 443.20,210.00 C444.22,214.03 445.62,221.83 446.10,224.20" fill="none" stroke="#ff1a1a" stroke-width="0.9"/>
<path d="M388.00,21.50 C388.23,23.72 388.62,30.62 389.40,34.80 C390.18,38.98 391.78,42.90 392.70,46.60 C393.62,50.30 394.42,54.05 394.90,57.00 C395.38,59.95 395.10,61.35 395.60,64.30 C396.10,67.25 397.10,72.03 397.90,74.70 C398.70,77.37 399.40,77.63 400.40,80.30 C401.40,82.97 402.72,86.67 403.90,90.70 C405.08,94.73 406.60,100.28 407.50,104.50 C408.40,108.72 408.72,112.75 409.30,116.00 C409.88,119.25 410.33,121.12 411.00,124.00 C411.67,126.88 412.60,130.63 413.30,133.30 C414.00,135.97 414.50,137.22 415.20,140.00 C415.90,142.78 416.77,146.50 417.50,150.00 C418.23,153.50 419.05,157.33 419.60,161.00 C420.15,164.67 420.35,168.43 420.80,172.00 C421.25,175.57 421.68,178.40 422.30,182.40 C422.92,186.40 423.92,191.30 424.50,196.00 C425.08,200.70 425.12,207.03 425.80,210.60 C426.48,214.17 427.73,215.13 428.60,217.40 C429.47,219.67 430.60,223.07 431.00,224.20" fill="none" stroke="#ff1a1a" stroke-width="0.9"/>
<path d="M373.50,40.00 C374.23,41.60 376.85,46.77 377.90,49.60 C378.95,52.43 379.27,54.47 379.80,57.00 C380.33,59.53 380.63,61.78 381.10,64.80 C381.57,67.82 381.78,71.73 382.60,75.10 C383.42,78.47 384.65,82.03 386.00,85.00 C387.35,87.97 389.63,89.57 390.70,92.90 C391.77,96.23 391.92,101.35 392.40,105.00 C392.88,108.65 393.08,111.12 393.60,114.80 C394.12,118.48 394.98,123.60 395.50,127.10 C396.02,130.60 395.98,133.33 396.70,135.80 C397.42,138.27 398.88,139.65 399.80,141.90 C400.72,144.15 401.60,146.78 402.20,149.30 C402.80,151.82 403.10,154.42 403.40,157.00 C403.70,159.58 403.80,162.80 404.00,164.80 C404.20,166.80 404.12,166.33 404.60,169.00 C405.08,171.67 406.33,177.80 406.90,180.80 C407.47,183.80 407.40,184.30 408.00,187.00 C408.60,189.70 409.60,192.88 410.50,197.00 C411.40,201.12 412.45,207.17 413.40,211.70 C414.35,216.23 415.73,222.12 416.20,224.20" fill="none" stroke="#ff1a1a" stroke-width="0.9"/>
<path d="M373.50,85.00 C373.90,86.55 375.25,91.13 375.90,94.30 C376.55,97.47 376.97,101.05 377.40,104.00 C377.83,106.95 378.07,108.50 378.50,112.00 C378.93,115.50 379.55,121.48 380.00,125.00 C380.45,128.52 380.57,129.73 381.20,133.10 C381.83,136.47 383.10,142.38 383.80,145.20 C384.50,148.02 384.83,147.57 385.40,150.00 C385.97,152.43 386.80,156.93 387.20,159.80 C387.60,162.67 387.28,164.73 387.80,167.20 C388.32,169.67 389.47,171.93 390.30,174.60 C391.13,177.27 392.08,180.33 392.80,183.20 C393.52,186.07 394.10,189.00 394.60,191.80 C395.10,194.60 395.32,197.47 395.80,200.00 C396.28,202.53 396.88,204.67 397.50,207.00 C398.12,209.33 398.68,211.13 399.50,214.00 C400.32,216.87 401.92,222.50 402.40,224.20" fill="none" stroke="#ff1a1a" stroke-width="0.9"/>
<path d="M373.50,171.00 C373.92,172.33 375.17,176.50 376.00,179.00 C376.83,181.50 377.75,183.50 378.50,186.00 C379.25,188.50 379.78,191.22 380.50,194.00 C381.22,196.78 382.05,199.55 382.80,202.70 C383.55,205.85 384.25,209.32 385.00,212.90 C385.75,216.48 386.92,222.32 387.30,224.20" fill="none" stroke="#ff1a1a" stroke-width="0.9"/>
</g>
<text x="0" y="0" transform="translate(474.2,38.6) rotate(62)" text-anchor="middle" dominant-baseline="central" font-size="13.3" fill="#ff0000">10</text>
<text x="0" y="0" transform="translate(387,84) rotate(68)" text-anchor="middle" dominant-baseline="central" font-size="13.3" fill="#ff0000">50</text>
<text x="0" y="0" transform="translate(378.6,122.3) rotate(80)" text-anchor="middle" dominant-baseline="central" font-size="13.3" fill="#ff0000">60</text>
<text x="0" y="0" transform="translate(381.3,191.6) rotate(78)" text-anchor="middle" dominant-baseline="central" font-size="13.3" fill="#ff0000">70</text>
<text x="0" y="0" transform="translate(424.3,199.6) rotate(78)" text-anchor="middle" dominant-baseline="central" font-size="13.3" fill="#ff0000">40</text>
<text x="0" y="0" transform="translate(438.7,199.4) rotate(76)" text-anchor="middle" dominant-baseline="central" font-size="13.3" fill="#ff0000">30</text>
<text x="0" y="0" transform="translate(455.1,199.4) rotate(76)" text-anchor="middle" dominant-baseline="central" font-size="13.3" fill="#ff0000">20</text>
<text x="0" y="0" transform="translate(479.7,199.8) rotate(80)" text-anchor="middle" dominant-baseline="central" font-size="13.3" fill="#ff0000">10</text>
<text x="0" y="0" transform="translate(491,24.8) rotate(0)" text-anchor="middle" dominant-baseline="central" font-size="13" fill="#70ad47">50</text>
<text x="0" y="0" transform="translate(438.8,42.1) rotate(0)" text-anchor="middle" dominant-baseline="central" font-size="13" fill="#70ad47">40</text>
<text x="0" y="0" transform="translate(438.3,56.8) rotate(0)" text-anchor="middle" dominant-baseline="central" font-size="13" fill="#70ad47">30</text>
<text x="0" y="0" transform="translate(437.5,74) rotate(0)" text-anchor="middle" dominant-baseline="central" font-size="13" fill="#70ad47">20</text>
<text x="0" y="0" transform="translate(438.1,102.2) rotate(0)" text-anchor="middle" dominant-baseline="central" font-size="13" fill="#70ad47">10</text>
<text x="0" y="0" transform="translate(604.9,33.3) rotate(0)" text-anchor="middle" dominant-baseline="central" font-size="13" fill="#70ad47">40</text>
<text x="0" y="0" transform="translate(604.9,48.4) rotate(0)" text-anchor="middle" dominant-baseline="central" font-size="13" fill="#70ad47">30</text>
<text x="0" y="0" transform="translate(604.9,67.4) rotate(0)" text-anchor="middle" dominant-baseline="central" font-size="13" fill="#70ad47">20</text>
<text x="0" y="0" transform="translate(605.6,94) rotate(0)" text-anchor="middle" dominant-baseline="central" font-size="13" fill="#70ad47">10</text>
</g>
<path d="M632.6,21.5 V224.2 H373.5" fill="none" stroke="#a6a6a6" stroke-width="1"/>
<path d="M399.7,224.2 v-2.5 M399.7,21.5 v2.5" stroke="#555" stroke-width="0.8" opacity="0.6"/>
<path d="M504.4,224.2 v-2.5 M504.4,21.5 v2.5" stroke="#555" stroke-width="0.8" opacity="0.6"/>
<path d="M609.1,224.2 v-2.5 M609.1,21.5 v2.5" stroke="#555" stroke-width="0.8" opacity="0.6"/>
<path d="M632.6,30.4 h-2.5 M373.5,30.4 h2.5" stroke="#555" stroke-width="0.8" opacity="0.6"/>
<path d="M632.6,127.2 h-2.5 M373.5,127.2 h2.5" stroke="#555" stroke-width="0.8" opacity="0.6"/>
<path d="M632.6,224 h-2.5 M373.5,224 h2.5" stroke="#555" stroke-width="0.8" opacity="0.6"/>
<rect x="631.9" y="50.5" width="46" height="28.6" fill="#fff"/>
<g font-size="13.1" fill="#262626">
<text x="635.7" y="35.3">1.1</text><text x="635.9" y="132.8">1.05</text><text x="635.9" y="229.6">1</text>
<text x="398.3" y="240.6" text-anchor="middle">0.13</text><text x="504.4" y="240.9" text-anchor="middle">0.14</text><text x="609.1" y="240.9" text-anchor="middle">0.15</text>
</g>
<text x="416.6" y="71.4" style="font-family:'Liberation Serif',serif" font-weight="bold" font-size="15.5" fill="#000">g</text>
<text transform="translate(348.8,53.4) scale(0.88,1)" font-weight="bold" font-size="31" fill="#000">c</text>
<text x="584.6" y="72.2" font-weight="bold" font-size="14.5" fill="#000">e</text>
<text x="416.4" y="184.6" font-weight="bold" font-size="15" fill="#000">f</text>
<text x="584" y="185.6" font-weight="bold" font-size="14.5" fill="#000">d</text>
<text x="538.5" y="95.2" font-size="16" fill="#70ad47">% SPA</text>
<text x="0" y="0" transform="translate(460.5,166.3) rotate(80)" text-anchor="middle" dominant-baseline="central" font-size="16.8" fill="#ff0000" textLength="41" lengthAdjust="spacingAndGlyphs">% SPI</text>
<text x="341.3" y="236.7" font-weight="bold" font-size="17.5" fill="#2f5597">W</text><text x="359.3" y="241.7" font-weight="bold" font-size="12.3" fill="#2f5597" textLength="19.9" lengthAdjust="spacingAndGlyphs">EXT</text>
<text x="636.8" y="71.5" font-weight="bold" font-size="17.5" fill="#2f5597">W</text><text x="653.5" y="76.3" font-weight="bold" font-size="12.2" fill="#2f5597">INT</text>
<text transform="translate(0.4,54.3) scale(0.91,1)" font-weight="bold" font-size="31" fill="#000">a</text>
<circle cx="70.6" cy="71.4" r="19.6" fill="#8f8f8f"/>
<path d="M54.00,60.00 C53.30,59.25 50.80,57.17 49.80,55.50 C48.80,53.83 48.03,51.72 48.00,50.00 C47.97,48.28 48.67,46.43 49.60,45.20 C50.53,43.97 52.20,43.07 53.60,42.60 C55.00,42.13 56.70,42.07 58.00,42.40 C59.30,42.73 60.57,43.80 61.40,44.60 C62.23,45.40 62.73,46.77 63.00,47.20" fill="none" stroke="#8f8f8f" stroke-width="2.5"/>
<rect x="-6" y="-2.1" width="12" height="4.2" fill="#8f8f8f" transform="translate(65.4,48.3) rotate(-17)"/>
<path d="M88.6,65 C91,61.5 94,61.6 97,63.6" fill="none" stroke="#8f8f8f" stroke-width="2.1"/>
<rect x="96.4" y="58.9" width="4.2" height="10.8" fill="#8f8f8f"/>
<path d="M119.85,42.68 L148.92,59.47 A11.7,11.7 0 0 1 148.92,79.73 L119.85,96.52 A11.7,11.7 0 0 1 102.30,86.39 L102.30,52.81 A11.7,11.7 0 0 1 119.85,42.68 Z" fill="#636363" transform="translate(102.3,0) scale(1.02,1) translate(-102.3,0)"/>
<path d="M94.5,82.6 C98,83.6 101,83 103.6,80" fill="none" stroke="#636363" stroke-width="2"/>
<path d="M88.10,84.60 L92.30,76.60 L96.00,82.40 Z" fill="#636363"/>
<circle cx="102.6" cy="102.6" r="7.6" fill="none" stroke="#fff" stroke-width="5"/>
<circle cx="102.6" cy="102.6" r="7.6" fill="none" stroke="#636363" stroke-width="2.5"/>
<path d="M94.30,96.80 L99.80,88.20 L104.80,96.80 Z" fill="#636363" stroke="#fff" stroke-width="0.5"/>
<path d="M140.80,45.00 L151.60,47.40 L144.40,54.40 Z" fill="#636363" stroke="#fff" stroke-width="0.5"/>
<path d="M131,41.5 C132.5,36.5 136,35 140.5,35.5" fill="none" stroke="#000" stroke-width="2"/>
<rect x="-6" y="-2.3" width="12" height="4.6" fill="#000" transform="translate(130.2,42.4) rotate(30)"/>
<rect x="-12" y="-12" width="24" height="24" rx="4.8" fill="#000" transform="translate(153.3,32.8) rotate(25)"/>
<circle cx="70.4" cy="161.8" r="19.5" fill="#8f8f8f"/>
<path d="M53.70,171.30 C53.02,172.00 50.58,173.97 49.60,175.50 C48.62,177.03 47.92,178.83 47.80,180.50 C47.68,182.17 48.12,184.07 48.90,185.50 C49.68,186.93 51.07,188.37 52.50,189.10 C53.93,189.83 55.95,190.20 57.50,189.90 C59.05,189.60 61.08,187.73 61.80,187.30" fill="none" stroke="#8f8f8f" stroke-width="2.5"/>
<rect x="-6" y="-2" width="12" height="4" fill="#8f8f8f" transform="translate(65,184.7) rotate(17)"/>
<path d="M88.8,168.6 C91.5,169.6 93,169.2 96,168.4" fill="none" stroke="#8f8f8f" stroke-width="2.1"/>
<rect x="95.5" y="162.2" width="3.8" height="11.8" fill="#8f8f8f"/>
<path d="M118.75,134.98 L147.82,151.77 A11.7,11.7 0 0 1 147.82,172.03 L118.75,188.82 A11.7,11.7 0 0 1 101.20,178.69 L101.20,145.11 A11.7,11.7 0 0 1 118.75,134.98 Z" fill="#2f5597"/>
<path d="M95,150.3 C98,150 100,150.5 103,152" fill="none" stroke="#2f5597" stroke-width="2"/>
<path d="M86.60,149.20 L95.80,150.20 L91.10,157.20 Z" fill="#2f5597"/>
<path d="M120.8,95.5 C124.5,106 124.5,118 119.5,129" fill="none" stroke="#2f5597" stroke-width="1.8"/>
<path d="M115.20,134.60 L116.50,127.20 L122.60,130.00 Z" fill="#2f5597"/>
<circle cx="161.5" cy="160.5" r="7.3" fill="none" stroke="#2f5597" stroke-width="2.2"/>
<path d="M153.30,170.60 L160.00,168.30 L155.50,163.50 Z" fill="#2f5597"/>
<path d="M140.80,187.40 L150.10,183.40 L144.50,178.60 Z" fill="#2f5597" stroke="#fff" stroke-width="0.8"/>
<path d="M129.8,192.5 C131.5,195.5 134.5,196.5 139,196.5" fill="none" stroke="#000" stroke-width="2"/>
<rect x="-5.8" y="-2.4" width="11.6" height="4.8" fill="#000" transform="translate(128.8,189.8) rotate(-26)"/>
<rect x="-12.1" y="-12.1" width="24.2" height="24.2" rx="5" fill="#000" transform="translate(151.6,198.9) rotate(-15)"/>
<rect x="115.7" y="87.8" width="65.8" height="51.8" fill="none" stroke="#ff0000" stroke-width="1.9" stroke-dasharray="1.9 1.4"/>
<rect x="146.7" y="147" width="81.2" height="31.5" fill="none" stroke="#70ad47" stroke-width="1.9" stroke-dasharray="1.9 1.4"/>
<text x="126.3" y="120.4" font-weight="bold" font-size="24.6" fill="#2f5597" textLength="22.9" lengthAdjust="spacingAndGlyphs">W</text><text x="149.7" y="127" font-weight="bold" font-size="16" fill="#2f5597" textLength="26.4" lengthAdjust="spacingAndGlyphs">EXT</text>
<text x="174.6" y="169.4" font-weight="bold" font-size="24.6" fill="#2f5597" textLength="22.3" lengthAdjust="spacingAndGlyphs">W</text><text x="198.3" y="175.9" font-weight="bold" font-size="16" fill="#2f5597" textLength="23.9" lengthAdjust="spacingAndGlyphs">INT</text>
<text x="9.6" y="107.6" font-size="19.4" fill="#767171" textLength="72" lengthAdjust="spacingAndGlyphs">Afferent</text>
<text x="10" y="138.2" font-size="18.8" fill="#2f5597" textLength="68" lengthAdjust="spacingAndGlyphs">Efferent</text>
<circle cx="23.5" cy="198" r="7.1" fill="#8f8f8f"/>
<path d="M18.00,209.40 L18.00,222.70 L30.70,216.00 Z" fill="#2f5597"/>
<rect x="-5.6" y="-5.6" width="11.2" height="11.2" rx="2" fill="#000" transform="translate(23.8,231.5) rotate(45)"/>
<text x="38" y="203.2" font-size="12.2" fill="#999999" textLength="50" lengthAdjust="spacingAndGlyphs">inhibition</text>
<text x="38" y="218.7" font-size="12.2" fill="#2f5597">excitation</text>
<text x="38" y="235.2" font-size="12.2" fill="#000">adaptation</text>
<text x="227" y="52" font-weight="bold" font-size="31" fill="#000">b</text>
<path d="M258.30,44.30 C258.88,48.52 260.55,62.10 261.80,69.60 C263.05,77.10 264.58,85.10 265.80,89.30 C267.02,93.50 267.80,94.65 269.10,94.80 C270.40,94.95 271.85,92.93 273.60,90.20 C275.35,87.47 277.45,81.77 279.60,78.40 C281.75,75.03 284.22,70.82 286.50,70.00 C288.78,69.18 290.68,71.77 293.30,73.50 C295.92,75.23 299.57,80.57 302.20,80.40 C304.83,80.23 307.13,76.28 309.10,72.50 C311.07,68.72 312.62,62.20 314.00,57.70 C315.38,53.20 316.83,47.53 317.40,45.50" fill="none" stroke="#000" stroke-width="2.1" stroke-linejoin="round"/>
<circle cx="270.3" cy="86.9" r="3.3" fill="#000"/>
<text x="262.5" y="107" font-weight="bold" font-size="12.8" fill="#ff0000">DN</text>
<path d="M257.90,105.90 C258.55,109.18 260.45,120.25 261.80,125.60 C263.15,130.95 264.18,134.72 266.00,138.00 C267.82,141.28 270.53,144.97 272.70,145.30 C274.87,145.63 276.87,142.37 279.00,140.00 C281.13,137.63 283.33,131.77 285.50,131.10 C287.67,130.43 289.92,133.68 292.00,136.00 C294.08,138.32 296.13,142.95 298.00,145.00 C299.87,147.05 301.53,148.63 303.20,148.30 C304.87,147.97 306.68,145.47 308.00,143.00 C309.32,140.53 309.60,139.68 311.10,133.50 C312.60,127.32 316.02,110.50 317.00,105.90" fill="none" stroke="#7f7f7f" stroke-width="2.1"/>
<path d="M257.90,146.30 C258.72,149.52 261.20,160.57 262.80,165.60 C264.40,170.63 265.70,173.80 267.50,176.50 C269.30,179.20 271.68,181.55 273.60,181.80 C275.52,182.05 277.08,179.72 279.00,178.00 C280.92,176.28 283.10,171.50 285.10,171.50 C287.10,171.50 288.97,175.03 291.00,178.00 C293.03,180.97 295.47,185.80 297.30,189.30 C299.13,192.80 300.52,196.55 302.00,199.00 C303.48,201.45 304.95,203.83 306.20,204.00 C307.45,204.17 308.52,202.13 309.50,200.00 C310.48,197.87 311.18,195.87 312.10,191.20 C313.02,186.53 314.12,179.22 315.00,172.00 C315.88,164.78 317.00,151.92 317.40,147.90" fill="none" stroke="#b3b3b3" stroke-width="2.1"/>
<circle cx="304.8" cy="193.6" r="3.3" fill="#7f7f7f"/>
<text x="283.6" y="210" font-weight="bold" font-size="12.8" fill="#70ad47">UP</text>
<path d="M251.1,215 V152" stroke="#000" stroke-width="1.6" stroke-dasharray="4.4 1.9" fill="none"/>
<path d="M248.60,153.50 L253.60,153.50 L251.10,148.30 Z" fill="#000"/>
<path d="M248.6,221.8 H317" stroke="#000" stroke-width="1.6" stroke-dasharray="4.4 1.9" fill="none"/>
<path d="M316.00,219.30 L316.00,224.30 L321.80,221.80 Z" fill="#000"/>
<text x="0" y="0" transform="translate(240.6,207) rotate(-90)" font-size="12.2" fill="#000">energy</text>
<text x="262.2" y="236.1" font-size="12.5" fill="#000">activity</text>
<path d="M327.9,81 V51" stroke="#7f7f7f" stroke-width="1.3" stroke-dasharray="1 1" fill="none"/>
<path d="M325.50,52.50 L330.30,52.50 L327.90,47.00 Z" fill="#7f7f7f"/>
<text x="0" y="0" transform="translate(331.6,199.8) rotate(-90)" font-size="12.1" fill="#000">increasing adaptation</text>
<text transform="translate(0.5,300) scale(0.95,1)" font-weight="bold" font-size="34" fill="#000">d</text>
<text x="189.5" y="300" font-weight="bold" font-size="33" fill="#000">e</text>
<text x="350" y="299.5" font-weight="bold" font-size="33" fill="#000">f</text>
<text x="520.3" y="298.2" style="font-family:'Liberation Serif',serif" font-weight="bold" font-size="32" fill="#000">g</text>
<text x="31.6" y="287.9" font-weight="bold" font-size="11.5" fill="#000" textLength="69.6" lengthAdjust="spacingAndGlyphs">Synchronous</text>
<text x="31.6" y="302.8" font-weight="bold" font-size="11.5" fill="#000" textLength="51.4" lengthAdjust="spacingAndGlyphs">Up-Down</text>
<text x="31.6" y="317.8" font-weight="bold" font-size="11.5" fill="#000" textLength="67" lengthAdjust="spacingAndGlyphs">States (UDS)</text>
<text x="213" y="287.6" font-weight="bold" font-size="11.5" fill="#70ad47" textLength="72" lengthAdjust="spacingAndGlyphs">Spontaneous</text>
<text x="213" y="302.8" font-weight="bold" font-size="11.5" fill="#70ad47" textLength="54" lengthAdjust="spacingAndGlyphs">Persistent</text>
<text x="213" y="317.8" font-weight="bold" font-size="11.5" fill="#70ad47" textLength="72.4" lengthAdjust="spacingAndGlyphs">Activity (SPA)</text>
<text x="371.1" y="287.8" font-weight="bold" font-size="11.5" fill="#ff0000" textLength="71.4" lengthAdjust="spacingAndGlyphs">Spontaneous</text>
<text x="371.1" y="303" font-weight="bold" font-size="11.5" fill="#ff0000" textLength="53.8" lengthAdjust="spacingAndGlyphs">Persistent</text>
<text x="371.1" y="318.3" font-weight="bold" font-size="11.5" fill="#ff0000" textLength="76.8" lengthAdjust="spacingAndGlyphs">Inactivity (SPI)</text>
<path d="M112.90,272.90 C113.07,274.22 113.40,277.68 113.90,280.80 C114.40,283.92 115.17,288.97 115.90,291.60 C116.63,294.23 117.48,296.27 118.30,296.60 C119.12,296.93 119.88,295.08 120.80,293.60 C121.72,292.12 122.82,289.10 123.80,287.70 C124.78,286.30 125.72,285.28 126.70,285.20 C127.68,285.12 128.55,286.45 129.70,287.20 C130.85,287.95 132.45,289.62 133.60,289.70 C134.75,289.78 135.62,289.02 136.60,287.70 C137.58,286.38 138.60,284.18 139.50,281.80 C140.40,279.42 141.58,274.80 142.00,273.40" fill="none" stroke="#000" stroke-width="1.7" stroke-linejoin="round"/>
<circle cx="118.8" cy="295.1" r="2.3" fill="#000"/>
<text x="124.5" y="302" font-weight="bold" font-size="8.6" fill="#ff0000">DN</text>
<path d="M112.90,299.10 C113.15,300.88 113.82,306.47 114.40,309.80 C114.98,313.13 115.75,316.88 116.40,319.10 C117.05,321.32 117.48,323.10 118.30,323.10 C119.12,323.10 119.82,321.07 121.30,319.10 C122.78,317.13 124.98,311.78 127.20,311.30 C129.42,310.82 132.72,316.13 134.60,316.20 C136.48,316.27 137.32,314.45 138.50,311.70 C139.68,308.95 141.17,301.70 141.70,299.70" fill="none" stroke="#2f5597" stroke-width="1.7" stroke-linejoin="round"/>
<circle cx="119" cy="321.1" r="2.3" fill="#2f5597"/>
<text x="124.5" y="327.6" font-weight="bold" font-size="8.6" fill="#ff0000">DN</text>
<path d="M151.90,272.10 C152.15,273.22 152.73,276.53 153.40,278.80 C154.07,281.07 154.92,283.97 155.90,285.70 C156.88,287.43 157.90,289.43 159.30,289.20 C160.70,288.97 162.73,284.22 164.30,284.30 C165.87,284.38 167.40,287.65 168.70,289.70 C170.00,291.75 171.03,294.88 172.10,296.60 C173.17,298.32 174.18,300.00 175.10,300.00 C176.02,300.00 176.95,298.65 177.60,296.60 C178.25,294.55 178.52,291.65 179.00,287.70 C179.48,283.75 180.25,275.37 180.50,272.90" fill="none" stroke="#a6a6a6" stroke-width="1.7" stroke-linejoin="round"/>
<circle cx="174.6" cy="296.6" r="2.3" fill="#7f7f7f"/>
<text x="157.6" y="301.1" font-weight="bold" font-size="8.6" fill="#70ad47">UP</text>
<path d="M151.90,298.70 C152.23,300.05 152.90,304.13 153.90,306.80 C154.90,309.47 157.00,313.22 157.90,314.70 C158.80,316.18 158.17,316.35 159.30,315.70 C160.43,315.05 163.13,310.63 164.70,310.80 C166.27,310.97 167.47,314.57 168.70,316.70 C169.93,318.83 171.12,321.80 172.10,323.60 C173.08,325.40 173.77,327.50 174.60,327.50 C175.43,327.50 176.37,326.07 177.10,323.60 C177.83,321.13 178.43,316.73 179.00,312.70 C179.57,308.67 180.25,301.62 180.50,299.40" fill="none" stroke="#8faadc" stroke-width="1.7" stroke-linejoin="round"/>
<circle cx="174.6" cy="324.6" r="2.3" fill="#7f9ad0"/>
<text x="157.6" y="328.6" font-weight="bold" font-size="8.6" fill="#70ad47">UP</text>
<path d="M296.80,279.70 C297.05,281.68 297.32,287.65 298.30,291.60 C299.28,295.55 301.35,302.42 302.70,303.40 C304.05,304.38 304.92,299.47 306.40,297.50 C307.88,295.53 309.63,291.60 311.60,291.60 C313.57,291.60 316.37,297.50 318.20,297.50 C320.03,297.50 321.30,294.52 322.60,291.60 C323.90,288.68 325.43,281.93 326.00,280.00" fill="none" stroke="#000" stroke-width="1.7" stroke-linejoin="round"/>
<circle cx="303" cy="301.9" r="2.3" fill="#000"/>
<text x="308.4" y="309.7" font-weight="bold" font-size="8.6" fill="#ff0000">DN</text>
<path d="M296.80,305.30 C297.17,307.28 297.90,313.75 299.00,317.20 C300.10,320.65 301.68,325.88 303.40,326.00 C305.12,326.12 307.45,318.13 309.30,317.90 C311.15,317.67 312.77,322.63 314.50,324.60 C316.23,326.57 318.22,330.20 319.70,329.70 C321.18,329.20 322.35,325.55 323.40,321.60 C324.45,317.65 325.57,308.60 326.00,306.00" fill="none" stroke="#8faadc" stroke-width="1.7" stroke-linejoin="round"/>
<circle cx="319.7" cy="326.2" r="2.3" fill="#7f9ad0"/>
<text x="304.7" y="335" font-weight="bold" font-size="8.6" fill="#70ad47">UP</text>
<path d="M460.50,278.00 C460.87,279.52 461.58,284.47 462.70,287.10 C463.82,289.73 466.22,292.52 467.20,293.80 C468.18,295.08 467.50,295.67 468.60,294.80 C469.70,293.93 472.07,288.40 473.80,288.60 C475.53,288.80 477.40,293.28 479.00,296.00 C480.60,298.72 482.05,304.17 483.40,304.90 C484.75,305.63 486.23,302.62 487.10,300.40 C487.97,298.18 488.23,295.28 488.60,291.60 C488.97,287.92 489.18,280.52 489.30,278.30" fill="none" stroke="#a6a6a6" stroke-width="1.7" stroke-linejoin="round"/>
<circle cx="483.7" cy="302.2" r="2.3" fill="#7f7f7f"/>
<text x="466.6" y="306.7" font-weight="bold" font-size="8.6" fill="#70ad47">UP</text>
<path d="M460.50,306.10 C460.75,307.95 461.02,313.13 462.00,317.20 C462.98,321.27 464.92,329.27 466.40,330.50 C467.88,331.73 469.42,326.58 470.90,324.60 C472.38,322.62 473.70,318.98 475.30,318.60 C476.90,318.22 479.10,321.55 480.50,322.30 C481.90,323.05 482.60,323.95 483.70,323.10 C484.80,322.25 486.17,319.87 487.10,317.20 C488.03,314.53 488.93,308.78 489.30,307.10" fill="none" stroke="#2f5597" stroke-width="1.7" stroke-linejoin="round"/>
<circle cx="466.9" cy="325.3" r="2.3" fill="#2f5597"/>
<text x="472.6" y="334.7" font-weight="bold" font-size="8.6" fill="#ff0000">DN</text>
<path d="M48.40,374.70 C49.34,374.56 51.34,374.22 53.10,374.00 C54.86,373.78 55.70,373.86 57.20,373.60 C58.70,373.34 59.52,372.48 60.60,372.70 C61.68,372.92 61.66,373.88 62.60,374.70 C63.54,375.52 64.34,377.06 65.30,376.80 C66.26,376.54 66.72,375.98 67.40,373.40 C68.08,370.82 68.02,368.52 68.70,363.90 C69.38,359.28 69.98,354.64 70.80,350.30 C71.62,345.96 72.00,343.68 72.80,342.20 C73.60,340.72 73.72,342.62 74.80,342.90 C75.88,343.18 76.70,343.60 78.20,343.60 C79.70,343.60 80.80,342.64 82.30,342.90 C83.80,343.16 84.22,344.36 85.70,344.90 C87.18,345.44 88.08,345.60 89.70,345.60 C91.32,345.60 92.30,344.90 93.80,344.90 C95.30,344.90 96.12,344.52 97.20,345.60 C98.28,346.68 98.52,346.64 99.20,350.30 C99.88,353.96 99.92,359.02 100.60,363.90 C101.28,368.78 101.80,372.08 102.60,374.70 C103.40,377.32 103.84,376.62 104.60,377.00 C105.36,377.38 105.44,376.74 106.40,376.60 C107.36,376.46 107.88,376.54 109.40,376.30 C110.92,376.06 112.38,375.46 114.00,375.40 C115.62,375.34 116.10,376.12 117.50,376.00 C118.90,375.88 119.58,375.32 121.00,374.80 C122.42,374.28 123.30,373.40 124.60,373.40 C125.90,373.40 126.10,374.34 127.50,374.80 C128.90,375.26 130.30,375.76 131.60,375.70 C132.90,375.64 133.24,375.78 134.00,374.50 C134.76,373.22 134.70,373.32 135.40,369.30 C136.10,365.28 136.68,359.54 137.50,354.40 C138.32,349.26 138.70,346.52 139.50,343.60 C140.30,340.68 140.42,340.36 141.50,339.80 C142.58,339.24 143.40,340.64 144.90,340.80 C146.40,340.96 147.38,340.32 149.00,340.60 C150.62,340.88 151.38,341.66 153.00,342.20 C154.62,342.74 155.46,342.48 157.10,343.30 C158.74,344.12 159.70,345.30 161.20,346.30 C162.70,347.30 163.24,348.44 164.60,348.30 C165.96,348.16 166.52,346.42 168.00,345.60 C169.48,344.78 170.12,343.80 172.00,344.20 C173.88,344.60 175.50,347.60 177.40,347.60 C179.30,347.60 180.00,344.68 181.50,344.20 C183.00,343.72 183.68,344.92 184.90,345.20 C186.12,345.48 186.66,344.30 187.60,345.60 C188.54,346.90 188.78,348.04 189.60,351.70 C190.42,355.36 190.88,359.30 191.70,363.90 C192.52,368.50 192.76,372.00 193.70,374.70 C194.64,377.40 195.04,376.98 196.40,377.40 C197.76,377.82 199.14,377.00 200.50,376.80 C201.86,376.60 202.66,376.48 203.20,376.40" fill="none" stroke="#767171" stroke-width="2.4" stroke-linejoin="round" stroke-linecap="butt"/>
<path d="M48.40,378.80 C50.44,378.74 55.22,378.64 58.60,378.50 C61.98,378.36 63.54,378.58 65.30,378.10 C67.06,377.62 66.58,378.94 67.40,376.10 C68.22,373.26 68.72,369.86 69.40,363.90 C70.08,357.94 70.26,351.72 70.80,346.30 C71.34,340.88 71.44,339.12 72.10,336.80 C72.76,334.48 72.74,334.84 74.10,334.70 C75.46,334.56 76.58,335.54 78.90,336.10 C81.22,336.66 83.26,337.14 85.70,337.50 C88.14,337.86 89.22,337.64 91.10,337.90 C92.98,338.16 93.62,338.34 95.10,338.80 C96.58,339.26 97.54,339.24 98.50,340.20 C99.46,341.16 99.36,340.76 99.90,343.60 C100.44,346.44 100.66,349.52 101.20,354.40 C101.74,359.28 101.92,363.52 102.60,368.00 C103.28,372.48 103.66,374.70 104.60,376.80 C105.54,378.90 104.32,378.16 107.30,378.50 C110.28,378.84 114.96,378.58 119.50,378.50 C124.04,378.42 127.08,378.26 130.00,378.10 C132.92,377.94 132.88,378.64 134.10,377.70 C135.32,376.76 135.42,376.98 136.10,373.40 C136.78,369.82 136.96,365.76 137.50,359.80 C138.04,353.84 138.26,348.20 138.80,343.60 C139.34,339.00 139.52,338.48 140.20,336.80 C140.88,335.12 140.98,335.42 142.20,335.20 C143.42,334.98 144.68,335.38 146.30,335.70 C147.92,336.02 148.68,336.58 150.30,336.80 C151.92,337.02 152.76,336.58 154.40,336.80 C156.04,337.02 156.88,337.50 158.50,337.90 C160.12,338.30 160.88,338.54 162.50,338.80 C164.12,339.06 164.96,339.20 166.60,339.20 C168.24,339.20 169.08,338.96 170.70,338.80 C172.32,338.64 173.36,338.20 174.70,338.40 C176.04,338.60 176.18,339.90 177.40,339.80 C178.62,339.70 179.44,338.10 180.80,337.90 C182.16,337.70 182.70,338.48 184.20,338.80 C185.70,339.12 187.08,338.82 188.30,339.50 C189.52,340.18 189.62,340.04 190.30,342.20 C190.98,344.36 191.02,345.96 191.70,350.30 C192.38,354.64 192.90,358.74 193.70,363.90 C194.50,369.06 194.88,373.12 195.70,376.10 C196.52,379.08 196.16,378.26 197.80,378.80 C199.44,379.34 202.68,378.80 203.90,378.80" fill="none" stroke="#2f5597" stroke-width="2.9" stroke-linejoin="round" stroke-linecap="butt"/>
<path d="M231.60,345.50 C232.28,345.74 233.88,345.24 235.00,346.70 C236.12,348.16 236.40,349.52 237.20,352.80 C238.00,356.08 238.30,358.98 239.00,363.10 C239.70,367.22 239.84,370.36 240.70,373.40 C241.56,376.44 242.12,377.26 243.30,378.30 C244.48,379.34 245.06,378.64 246.60,378.60 C248.14,378.56 249.26,378.48 251.00,378.10 C252.74,377.72 253.86,376.92 255.30,376.70 C256.74,376.48 256.88,377.14 258.20,377.00 C259.52,376.86 260.44,376.36 261.90,376.00 C263.36,375.64 264.04,375.20 265.50,375.20 C266.96,375.20 268.02,376.14 269.20,376.00 C270.38,375.86 270.52,374.58 271.40,374.50 C272.28,374.42 272.58,375.24 273.60,375.60 C274.62,375.96 275.34,376.52 276.50,376.30 C277.66,376.08 278.28,376.14 279.40,374.50 C280.52,372.86 281.04,372.48 282.10,368.10 C283.16,363.72 283.68,357.94 284.70,352.60 C285.72,347.26 286.00,343.98 287.20,341.40 C288.40,338.82 289.32,339.18 290.70,339.70 C292.08,340.22 292.90,341.08 294.10,344.00 C295.30,346.92 295.66,349.48 296.70,354.30 C297.74,359.12 298.26,363.44 299.30,368.10 C300.34,372.76 300.86,375.26 301.90,377.60 C302.94,379.94 302.94,379.64 304.50,379.80 C306.06,379.96 307.64,379.08 309.70,378.40 C311.76,377.72 312.40,377.08 314.80,376.40 C317.20,375.72 319.80,376.66 321.70,375.00 C323.60,373.34 323.26,372.58 324.30,368.10 C325.34,363.62 325.86,357.94 326.90,352.60 C327.94,347.26 328.38,343.82 329.50,341.40 C330.62,338.98 331.10,340.14 332.50,340.50 C333.90,340.86 334.90,342.46 336.50,343.20 C338.10,343.94 339.00,344.22 340.50,344.20 C342.00,344.18 342.78,343.28 344.00,343.10 C345.22,342.92 345.70,342.56 346.60,343.30 C347.50,344.04 347.76,344.08 348.50,346.80 C349.24,349.52 349.56,352.28 350.30,356.90 C351.04,361.52 351.28,365.64 352.20,369.90 C353.12,374.16 353.42,376.44 354.90,378.20 C356.38,379.96 357.64,378.60 359.60,378.70 C361.56,378.80 363.68,378.70 364.70,378.70" fill="none" stroke="#767171" stroke-width="2.4" stroke-linejoin="round" stroke-linecap="butt"/>
<path d="M231.60,337.20 C232.56,337.28 234.92,336.56 236.40,337.60 C237.88,338.64 238.14,339.02 239.00,342.40 C239.86,345.78 239.84,348.64 240.70,354.50 C241.56,360.36 242.26,366.70 243.30,371.70 C244.34,376.70 244.18,377.78 245.90,379.50 C247.62,381.22 248.28,380.14 251.90,380.30 C255.52,380.46 258.82,380.36 264.00,380.30 C269.18,380.24 274.48,380.36 277.80,380.00 C281.12,379.64 279.58,379.84 280.60,378.50 C281.62,377.16 282.08,378.14 282.90,373.30 C283.72,368.46 284.00,360.86 284.70,354.30 C285.40,347.74 285.72,344.30 286.40,340.50 C287.08,336.70 287.06,336.60 288.10,335.30 C289.14,334.00 290.04,333.92 291.60,334.00 C293.16,334.08 294.18,334.40 295.90,335.70 C297.62,337.00 298.66,339.02 300.20,340.50 C301.74,341.98 302.22,342.76 303.60,343.10 C304.98,343.44 305.38,342.02 307.10,342.20 C308.82,342.38 310.30,344.06 312.20,344.00 C314.10,343.94 314.86,342.26 316.60,341.90 C318.34,341.54 319.18,342.64 320.90,342.20 C322.62,341.76 323.66,340.80 325.20,339.70 C326.74,338.60 327.22,337.22 328.60,336.70 C329.98,336.18 330.34,337.12 332.10,337.10 C333.86,337.08 335.24,336.62 337.40,336.60 C339.56,336.58 340.68,336.82 342.90,337.00 C345.12,337.18 346.84,337.02 348.50,337.50 C350.16,337.98 350.28,337.36 351.20,339.40 C352.12,341.44 352.16,342.34 353.10,347.70 C354.04,353.06 354.80,360.10 355.90,366.20 C357.00,372.30 357.50,375.44 358.60,378.20 C359.70,380.96 360.18,379.64 361.40,380.00 C362.62,380.36 364.04,380.00 364.70,380.00" fill="none" stroke="#2f5597" stroke-width="2.9" stroke-linejoin="round" stroke-linecap="butt"/>
<path d="M388.20,377.60 C388.96,377.24 390.72,378.62 392.00,375.80 C393.28,372.98 393.54,369.80 394.60,363.50 C395.66,357.20 396.24,348.84 397.30,344.30 C398.36,339.76 398.16,341.26 399.90,340.80 C401.64,340.34 403.38,341.84 406.00,342.00 C408.62,342.16 410.72,341.08 413.00,341.60 C415.28,342.12 415.64,344.42 417.40,344.60 C419.16,344.78 419.52,342.74 421.80,342.50 C424.08,342.26 426.18,343.04 428.80,343.40 C431.42,343.76 432.98,344.12 434.90,344.30 C436.82,344.48 437.16,342.20 438.40,344.30 C439.64,346.40 440.04,348.84 441.10,354.80 C442.16,360.76 442.66,369.20 443.70,374.10 C444.74,379.00 444.72,378.32 446.30,379.30 C447.88,380.28 449.14,379.28 451.60,379.00 C454.06,378.72 456.50,379.60 458.60,377.90 C460.70,376.20 460.88,375.48 462.10,370.50 C463.32,365.52 463.82,358.30 464.70,353.00 C465.58,347.70 465.72,346.68 466.50,344.00 C467.28,341.32 467.38,340.56 468.60,339.60 C469.82,338.64 470.74,339.36 472.60,339.20 C474.46,339.04 475.98,338.38 477.90,338.80 C479.82,339.22 480.46,340.04 482.20,341.30 C483.94,342.56 485.34,343.36 486.60,345.10 C487.86,346.84 487.80,347.02 488.50,350.00 C489.20,352.98 489.26,354.84 490.10,360.00 C490.94,365.16 491.82,372.04 492.70,375.80 C493.58,379.56 493.74,378.76 494.50,378.80 C495.26,378.84 495.70,378.36 496.50,376.00 C497.30,373.64 497.70,371.20 498.50,367.00 C499.30,362.80 499.70,359.40 500.50,355.00 C501.30,350.60 501.60,348.00 502.50,345.00 C503.40,342.00 503.62,341.30 505.00,340.00 C506.38,338.70 507.78,338.44 509.40,338.50 C511.02,338.56 512.36,339.94 513.10,340.30" fill="none" stroke="#767171" stroke-width="2.4" stroke-linejoin="round" stroke-linecap="butt"/>
<path d="M388.20,381.10 C389.32,381.02 392.34,381.40 393.80,380.70 C395.26,380.00 394.64,381.74 395.50,377.60 C396.36,373.46 397.04,367.72 398.10,360.00 C399.16,352.28 399.92,344.24 400.80,339.00 C401.68,333.76 401.10,334.50 402.50,333.80 C403.90,333.10 405.34,334.80 407.80,335.50 C410.26,336.20 412.00,336.88 414.80,337.30 C417.60,337.72 419.36,337.08 421.80,337.60 C424.24,338.12 424.90,339.44 427.00,339.90 C429.10,340.36 430.18,340.14 432.30,339.90 C434.42,339.66 436.02,338.18 437.60,338.70 C439.18,339.22 439.34,338.94 440.20,342.50 C441.06,346.06 441.20,350.54 441.90,356.50 C442.60,362.46 443.00,367.56 443.70,372.30 C444.40,377.04 444.18,378.44 445.40,380.20 C446.62,381.96 447.16,380.92 449.80,381.10 C452.44,381.28 455.44,381.46 458.60,381.10 C461.76,380.74 463.16,380.00 465.60,379.30 C468.04,378.60 469.06,377.78 470.80,377.60 C472.54,377.42 472.72,378.48 474.30,378.40 C475.88,378.32 476.94,377.02 478.70,377.20 C480.46,377.38 480.82,378.60 483.10,379.30 C485.38,380.00 487.64,380.36 490.10,380.70 C492.56,381.04 493.30,381.24 495.40,381.00 C497.50,380.76 498.98,380.30 500.60,379.50 C502.22,378.70 502.52,378.70 503.50,377.00 C504.48,375.30 504.70,375.00 505.50,371.00 C506.30,367.00 506.72,362.78 507.50,357.00 C508.28,351.22 508.66,346.18 509.40,342.10 C510.14,338.02 510.46,338.14 511.20,336.60 C511.94,335.06 512.72,334.84 513.10,334.40" fill="none" stroke="#2f5597" stroke-width="2.9" stroke-linejoin="round" stroke-linecap="butt"/>
<path d="M536.80,377.10 C537.98,377.18 540.92,377.70 542.70,377.50 C544.48,377.30 544.60,377.76 545.70,376.10 C546.80,374.44 547.22,374.52 548.20,369.20 C549.18,363.88 549.72,356.18 550.60,349.50 C551.48,342.82 551.62,338.86 552.60,335.80 C553.58,332.74 554.12,334.28 555.50,334.20 C556.88,334.12 558.12,334.70 559.50,335.40 C560.88,336.10 561.02,337.16 562.40,337.70 C563.78,338.24 565.02,337.70 566.40,338.10 C567.78,338.50 568.32,337.80 569.30,339.70 C570.28,341.60 570.52,342.08 571.30,347.60 C572.08,353.12 572.42,361.40 573.20,367.30 C573.98,373.20 574.00,374.94 575.20,377.10 C576.40,379.26 577.82,378.50 579.20,378.10 C580.58,377.70 580.74,375.50 582.10,375.10 C583.46,374.70 584.42,376.10 586.00,376.10 C587.58,376.10 588.62,378.44 590.00,375.10 C591.38,371.76 591.72,366.48 592.90,359.40 C594.08,352.32 594.72,344.90 595.90,339.70 C597.08,334.50 597.42,334.18 598.80,333.40 C600.18,332.62 601.60,334.14 602.80,335.80 C604.00,337.46 604.06,337.66 604.80,341.70 C605.54,345.74 605.86,349.94 606.50,356.00 C607.14,362.06 607.30,367.64 608.00,372.00 C608.70,376.36 608.84,376.44 610.00,377.80 C611.16,379.16 612.06,379.00 613.80,378.80 C615.54,378.60 616.92,377.04 618.70,376.80 C620.48,376.56 621.32,377.72 622.70,377.60 C624.08,377.48 624.22,376.28 625.60,376.20 C626.98,376.12 628.22,378.18 629.60,377.20 C630.98,376.22 631.52,375.64 632.50,371.30 C633.48,366.96 633.70,361.82 634.50,355.50 C635.30,349.18 635.70,343.96 636.50,339.70 C637.30,335.44 637.32,334.98 638.50,334.20 C639.68,333.42 640.82,335.08 642.40,335.80 C643.98,336.52 645.22,336.62 646.40,337.80 C647.58,338.98 647.52,337.38 648.30,341.70 C649.08,346.02 649.50,353.08 650.30,359.40 C651.10,365.72 651.32,369.54 652.30,373.30 C653.28,377.06 653.82,377.34 655.20,378.20 C656.58,379.06 657.22,377.80 659.20,377.60 C661.18,377.40 663.92,377.28 665.10,377.20" fill="none" stroke="#767171" stroke-width="2.4" stroke-linejoin="round" stroke-linecap="butt"/>
<path d="M536.80,379.10 C537.98,379.10 540.72,379.18 542.70,379.10 C544.68,379.02 545.32,379.10 546.70,378.70 C548.08,378.30 548.42,377.50 549.60,377.10 C550.78,376.70 551.42,376.50 552.60,376.70 C553.78,376.90 554.12,378.02 555.50,378.10 C556.88,378.18 557.92,377.50 559.50,377.10 C561.08,376.70 562.02,376.10 563.40,376.10 C564.78,376.10 565.02,376.58 566.40,377.10 C567.78,377.62 568.54,378.22 570.30,378.70 C572.06,379.18 572.84,379.42 575.20,379.50 C577.56,379.58 579.54,379.26 582.10,379.10 C584.66,378.94 586.22,379.10 588.00,378.70 C589.78,378.30 590.02,379.00 591.00,377.10 C591.98,375.20 592.12,374.72 592.90,369.20 C593.68,363.68 594.10,356.98 594.90,349.50 C595.70,342.02 596.12,336.12 596.90,331.80 C597.68,327.48 597.62,328.60 598.80,327.90 C599.98,327.20 601.42,327.52 602.80,328.30 C604.18,329.08 604.88,330.70 605.70,331.80 C606.52,332.90 605.88,333.20 606.90,333.80 C607.92,334.40 609.22,334.20 610.80,334.80 C612.38,335.40 613.22,336.92 614.80,336.80 C616.38,336.68 616.92,334.48 618.70,334.20 C620.48,333.92 621.72,335.40 623.70,335.40 C625.68,335.40 627.02,334.20 628.60,334.20 C630.18,334.20 630.22,335.96 631.60,335.40 C632.98,334.84 633.94,332.50 635.50,331.40 C637.06,330.30 637.42,330.02 639.40,329.90 C641.38,329.78 643.62,330.02 645.40,330.80 C647.18,331.58 647.32,330.84 648.30,333.80 C649.28,336.76 649.50,339.68 650.30,345.60 C651.10,351.52 651.52,357.28 652.30,363.40 C653.08,369.52 653.22,372.84 654.20,376.20 C655.18,379.56 655.02,379.40 657.20,380.20 C659.38,381.00 663.52,380.20 665.10,380.20" fill="none" stroke="#2f5597" stroke-width="2.9" stroke-linejoin="round" stroke-linecap="butt"/>
<rect x="290.7" y="269.7" width="41.4" height="114.8" fill="none" stroke="#70ad47" stroke-width="2.6"/>
<rect x="454" y="270.1" width="41.1" height="114.8" fill="none" stroke="#ff0000" stroke-width="2.6"/>
<rect x="542" y="269.7" width="41.4" height="114.3" fill="none" stroke="#ff0000" stroke-width="2.6"/>
<rect x="602.2" y="269.5" width="41.5" height="114.8" fill="none" stroke="#70ad47" stroke-width="2.6"/>
<text x="554.2" y="298.8" font-weight="bold" font-size="11.5" fill="#ff0000" textLength="16.6" lengthAdjust="spacingAndGlyphs">SPI</text>
<text x="613.4" y="298.8" font-weight="bold" font-size="11.5" fill="#70ad47" textLength="20" lengthAdjust="spacingAndGlyphs">SPA</text>
<text x="7.2" y="341.2" font-size="10.6" fill="#767171" textLength="34.8" lengthAdjust="spacingAndGlyphs">afferent</text>
<text x="7.2" y="354.3" font-size="10.6" fill="#2f5597" textLength="34.8" lengthAdjust="spacingAndGlyphs">efferent</text>
<path d="M44.9,338.5 H66.1" stroke="#767171" stroke-width="2.6"/><path d="M44.9,351.5 H66.1" stroke="#2f5597" stroke-width="2.8"/>
<text x="78.7" y="358.5" font-weight="bold" font-size="8.8" fill="#70ad47">UP</text>
<text x="158.9" y="358.7" font-weight="bold" font-size="8.8" fill="#70ad47">UP</text>
<text x="112.6" y="368" font-weight="bold" font-size="8.8" fill="#ff0000">DN</text>
<rect x="33.1" y="369" width="4" height="20.7" fill="#000"/>
<rect x="52.6" y="387.4" width="50.6" height="3.6" fill="#000"/>
<rect x="550.2" y="390.5" width="40.4" height="4.3" fill="#000"/>
<text x="0" y="0" transform="translate(28.6,391.2) rotate(-90)" font-weight="bold" font-size="10.5" fill="#000" textLength="24.2" lengthAdjust="spacingAndGlyphs">Δz=1</text>
<text x="59.4" y="400.5" font-size="11" fill="#000" textLength="22" lengthAdjust="spacingAndGlyphs">1 sec</text>
</svg></body></html>
